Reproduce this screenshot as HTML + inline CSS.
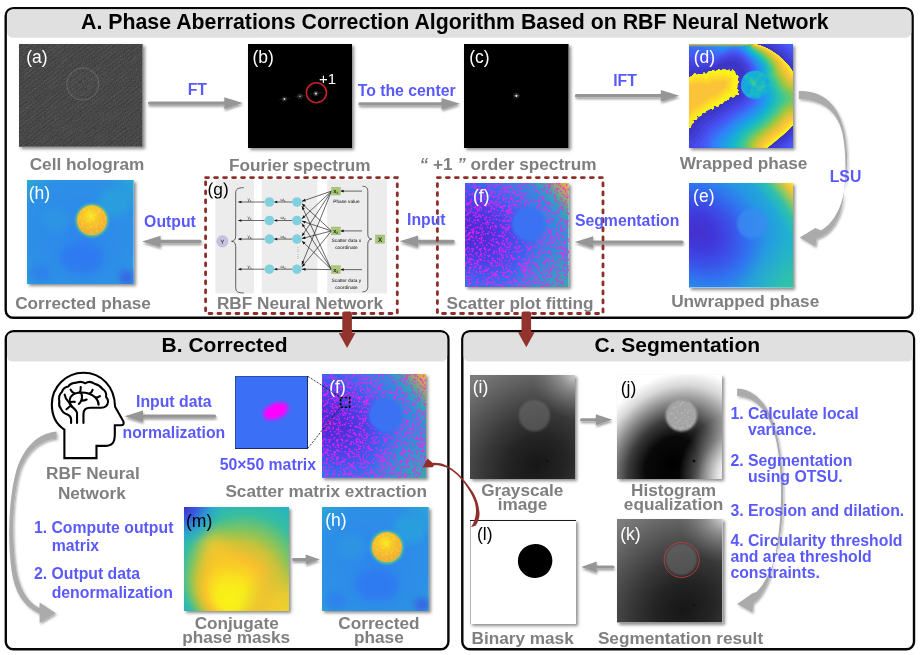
<!DOCTYPE html>
<html><head><meta charset="utf-8"><title>Phase Aberrations Correction</title>
<style>
html,body{margin:0;padding:0;background:#fff}
body{width:920px;height:655px;position:relative;overflow:hidden;font-family:"Liberation Sans",sans-serif}
.t{position:absolute;white-space:nowrap;font-weight:bold;line-height:1}
.g{color:#7f7f7f;font-size:17.2px}
.b{color:#5a5afc;font-size:15.8px}
.c{text-align:center;transform:translateX(-50%)}
.im{position:absolute;box-shadow:2px 2px 3px rgba(0,0,0,.45);overflow:hidden}
.im svg{display:block;width:100%;height:100%}
.lb{position:absolute;font-size:17px;color:#fff;line-height:1;font-weight:normal}
#ov{position:absolute;left:0;top:0;width:920px;height:655px;pointer-events:none}
</style></head>
<body>
<!-- PANELS -->
<svg id="bg" viewBox="0 0 920 655" style="position:absolute;left:0;top:0;width:920px;height:655px">
<g fill="#fff" stroke="#070707" stroke-width="2.4">
<rect x="5.7" y="8.1" width="906.9" height="309.7" rx="7.6"/>
<rect x="5.8" y="331.3" width="442.6" height="318" rx="7.6"/>
<rect x="462.3" y="331.2" width="451.7" height="318.1" rx="7.6"/>
</g>
<g fill="#e0e0e0">
<rect x="7.1" y="9.4" width="904.2" height="28.3" rx="5.5"/>
<rect x="7.1" y="332.5" width="440.1" height="29.1" rx="5.5"/>
<rect x="463.6" y="332.5" width="449.2" height="29" rx="5.5"/>
</g>
</svg>
<div class="t" style="left:81.1px;top:12px;font-size:21.3px;color:#000">A. Phase Aberrations Correction Algorithm Based on RBF Neural Network</div>
<div class="t" style="left:161.6px;top:334px;font-size:21px;color:#000">B. Corrected</div>
<div class="t" style="left:594.4px;top:334px;font-size:21px;color:#000">C. Segmentation</div>

<!-- IMAGES-START -->
<svg width="0" height="0" style="position:absolute"><defs>
<filter id="nz" x="0" y="0" width="100%" height="100%"><feTurbulence type="fractalNoise" baseFrequency="0.9" numOctaves="2" seed="3"/><feColorMatrix values="0 0 0 0 1  0 0 0 0 1  0 0 0 0 1  0.9 0 0 0 -0.28"/></filter>
<filter id="nz2" x="0" y="0" width="100%" height="100%"><feTurbulence type="fractalNoise" baseFrequency="0.05 0.6" numOctaves="2" seed="8"/><feColorMatrix values="0 0 0 0 1  0 0 0 0 1  0 0 0 0 1  0.8 0 0 0 -0.3"/></filter>
<filter id="mg" x="0" y="0" width="100%" height="100%"><feTurbulence type="fractalNoise" baseFrequency="0.62" numOctaves="1" seed="11"/><feColorMatrix values="0 0 0 0 0.93  0 0 0 0 0.1  0 0 0 0 0.95  16 0 0 0 -10.1"/><feGaussianBlur stdDeviation="0.3"/></filter>
<filter id="mg2" x="0" y="0" width="100%" height="100%"><feTurbulence type="fractalNoise" baseFrequency="0.62" numOctaves="1" seed="23"/><feColorMatrix values="0 0 0 0 0.93  0 0 0 0 0.1  0 0 0 0 0.95  16 0 0 0 -10.1"/><feGaussianBlur stdDeviation="0.3"/></filter>
<clipPath id="hcl"><circle cx="65" cy="40.3" r="14.5"/></clipPath>
<clipPath id="jcl"><circle cx="64.4" cy="40.6" r="14.8"/></clipPath>
<filter id="b8" x="-100%" y="-100%" width="300%" height="300%"><feGaussianBlur stdDeviation="8"/></filter>
<filter id="b03" x="0" y="0" width="100%" height="100%"><feGaussianBlur stdDeviation="0.35"/></filter>
<pattern id="fr" width="3.4" height="3.4" patternUnits="userSpaceOnUse" patternTransform="rotate(-38)"><rect width="3.4" height="1.5" fill="#fff" opacity=".045"/></pattern>
<filter id="b1"><feGaussianBlur stdDeviation="1"/></filter>
<filter id="b2"><feGaussianBlur stdDeviation="2"/></filter>
<filter id="b3"><feGaussianBlur stdDeviation="3.5"/></filter>
<filter id="b05"><feGaussianBlur stdDeviation="0.5"/></filter>
<filter id="b05e" x="0" y="0" width="100%" height="100%"><feGaussianBlur stdDeviation="0.55" edgeMode="duplicate"/></filter>
<filter id="sp" x="0" y="0" width="100%" height="100%"><feTurbulence type="fractalNoise" baseFrequency="0.35" numOctaves="2" seed="5"/><feColorMatrix values="0 0 0 0 1  0 0 0 0 1  0 0 0 0 0.3  3 0 0 0 -1.5"/></filter>
<filter id="spw" x="0" y="0" width="100%" height="100%"><feTurbulence type="fractalNoise" baseFrequency="0.4" numOctaves="2" seed="9"/><feColorMatrix values="0 0 0 0 1  0 0 0 0 1  0 0 0 0 1  3 0 0 0 -1.6"/></filter>
<radialGradient id="gE" gradientUnits="userSpaceOnUse" cx="0" cy="0" r="108" gradientTransform="translate(9 49) rotate(35) scale(1.12 .92)"><stop offset="0" stop-color="#4530cc"/><stop offset=".15" stop-color="#4038da"/><stop offset=".3" stop-color="#3b50e8"/><stop offset=".45" stop-color="#3074f0"/><stop offset=".6" stop-color="#2696e4"/><stop offset=".8" stop-color="#20b0d2"/><stop offset="1" stop-color="#26bcbc"/></radialGradient>
<radialGradient id="gEc" gradientUnits="userSpaceOnUse" cx="0" cy="0" r="128.5" gradientTransform="translate(8 50) rotate(45) scale(1.414 .816)"><stop offset=".7" stop-color="#2cc0aa" stop-opacity="0"/><stop offset=".8" stop-color="#34c4a0" stop-opacity=".7"/><stop offset=".87" stop-color="#84c866"/><stop offset=".94" stop-color="#ecc436"/><stop offset="1" stop-color="#fbe420"/></radialGradient>
<radialGradient id="gEb" gradientUnits="userSpaceOnUse" cx="118" cy="118" r="75"><stop offset="0" stop-color="#3cc894"/><stop offset=".4" stop-color="#30c4a4" stop-opacity=".8"/><stop offset="1" stop-color="#22b4cc" stop-opacity="0"/></radialGradient>
<radialGradient id="gH" cx=".5" cy=".5" r=".75"><stop offset="0" stop-color="#2e86ee"/><stop offset=".7" stop-color="#2d90e6"/><stop offset=".92" stop-color="#2aa6d6"/><stop offset="1" stop-color="#35b8b0"/></radialGradient>
<radialGradient id="gHc" cx=".45" cy=".35" r=".65"><stop offset="0" stop-color="#f9ec20"/><stop offset=".35" stop-color="#f8c828"/><stop offset=".8" stop-color="#f4b030"/><stop offset="1" stop-color="#d8b840"/></radialGradient>
<radialGradient id="gI" gradientUnits="userSpaceOnUse" cx="0" cy="0" r="125" gradientTransform="translate(66 90) rotate(-40) scale(1 .85)"><stop offset="0" stop-color="#161616"/><stop offset=".25" stop-color="#242424"/><stop offset=".45" stop-color="#383838"/><stop offset=".65" stop-color="#515151"/><stop offset=".85" stop-color="#6a6a6a"/><stop offset="1" stop-color="#7c7c7c"/></radialGradient>
<radialGradient id="gIc" gradientUnits="userSpaceOnUse" cx="108" cy="-4" r="48"><stop offset="0" stop-color="#fff" stop-opacity=".85"/><stop offset=".4" stop-color="#ccc" stop-opacity=".45"/><stop offset="1" stop-color="#888" stop-opacity="0"/></radialGradient>
<radialGradient id="gJ" gradientUnits="userSpaceOnUse" cx="0" cy="0" r="100" gradientTransform="translate(54 90) rotate(-55) scale(1 .8)"><stop offset="0" stop-color="#000"/><stop offset=".3" stop-color="#090909"/><stop offset=".5" stop-color="#3c3c3c"/><stop offset=".68" stop-color="#8a8a8a"/><stop offset=".85" stop-color="#d8d8d8"/><stop offset="1" stop-color="#fff"/></radialGradient>
<radialGradient id="gJb" gradientUnits="userSpaceOnUse" cx="124" cy="100" r="62"><stop offset="0" stop-color="#fff"/><stop offset=".35" stop-color="#fff" stop-opacity=".85"/><stop offset=".7" stop-color="#fff" stop-opacity=".3"/><stop offset="1" stop-color="#fff" stop-opacity="0"/></radialGradient>
<radialGradient id="gM" gradientUnits="userSpaceOnUse" cx="66" cy="60" r="84" fx="43" fy="95"><stop offset="0" stop-color="#f9f516"/><stop offset=".16" stop-color="#f9ea1e"/><stop offset=".36" stop-color="#f9c02e"/><stop offset=".5" stop-color="#c8c23a"/><stop offset=".6" stop-color="#84c45e"/><stop offset=".74" stop-color="#36bea0"/><stop offset=".9" stop-color="#25b2c4"/><stop offset="1" stop-color="#24a4d8"/></radialGradient>
<radialGradient id="gMb" gradientUnits="userSpaceOnUse" cx="112" cy="112" r="60"><stop offset="0" stop-color="#f9d826"/><stop offset=".45" stop-color="#f9cc2a" stop-opacity=".8"/><stop offset="1" stop-color="#c4c23c" stop-opacity="0"/></radialGradient>
<radialGradient id="gMc" gradientUnits="userSpaceOnUse" cx="-2" cy="-2" r="42"><stop offset="0" stop-color="#4428c8"/><stop offset=".35" stop-color="#3a50e0" stop-opacity=".9"/><stop offset=".7" stop-color="#2a9cd8" stop-opacity=".6"/><stop offset="1" stop-color="#2ab0c0" stop-opacity="0"/></radialGradient>
<linearGradient id="gMl" x1="0" x2="1" y1="0" y2="0"><stop offset="0" stop-color="#28a0d8"/><stop offset=".1" stop-color="#30b4b4" stop-opacity=".7"/><stop offset=".25" stop-color="#70c470" stop-opacity="0"/></linearGradient>
<linearGradient id="gMr" x1="1" x2="0.4" y1="1" y2="0.6"><stop offset="0" stop-color="#f9e022" stop-opacity=".9"/><stop offset="1" stop-color="#f9e022" stop-opacity="0"/></linearGradient>
<path id="fd" d="M23.1 90.6h.01M21.5 95.5h.01M50.8 63.6h.01M79.7 53.9h.01M30.9 19.5h.01M8.4 76.8h.01M45.9 16.5h.01M91.5 28.5h.01M43.1 30.8h.01M65.4 60.3h.01M29.6 26.4h.01M34.1 15.0h.01M17.2 100.2h.01M99.9 19.6h.01M2.5 21.3h.01M72.8 81.1h.01M2.4 60.1h.01M0.2 53.6h.01M66.5 102.5h.01M26.9 83.5h.01M90.5 96.0h.01M0.2 48.8h.01M102.1 41.5h.01M84.6 56.8h.01M80.2 50.4h.01M3.0 9.0h.01M11.6 26.1h.01M100.4 65.7h.01M84.9 58.9h.01M66.1 84.4h.01M96.4 94.9h.01M85.8 9.8h.01M37.5 3.7h.01M56.8 82.8h.01M5.3 19.6h.01M38.0 25.4h.01M82.7 36.6h.01M60.7 97.7h.01M98.1 11.6h.01M87.7 36.0h.01M10.5 39.9h.01M53.1 100.0h.01M38.6 1.3h.01M89.4 11.6h.01M49.7 88.4h.01M83.2 2.1h.01M102.5 83.3h.01M5.6 19.8h.01M47.1 73.1h.01M34.5 37.4h.01M95.8 99.2h.01M42.4 93.5h.01M34.3 8.6h.01M54.8 68.7h.01M92.9 100.4h.01M80.1 78.9h.01M73.8 73.0h.01M79.8 101.3h.01M38.9 8.6h.01M24.9 23.0h.01M37.8 84.3h.01M6.3 46.8h.01M84.6 27.5h.01M6.6 25.2h.01M8.8 84.0h.01M17.7 20.3h.01M84.7 84.3h.01M61.3 95.1h.01M6.2 100.4h.01M85.9 68.6h.01M102.6 11.2h.01M3.2 56.6h.01M37.9 92.8h.01M100.0 82.1h.01M51.7 22.0h.01M62.8 77.9h.01M78.6 103.3h.01M22.7 44.3h.01M44.1 33.1h.01M38.0 49.7h.01M14.0 31.4h.01M14.2 33.0h.01M70.6 62.5h.01M103.7 58.3h.01M57.1 66.8h.01M75.6 64.0h.01M61.2 62.9h.01M36.9 80.8h.01M25.5 7.4h.01M36.2 1.3h.01M17.2 6.3h.01M28.9 36.2h.01M61.5 80.6h.01M65.0 16.6h.01M93.0 76.0h.01M51.8 66.9h.01M53.0 17.5h.01M66.7 102.8h.01M80.1 18.9h.01M12.5 96.8h.01M94.7 77.9h.01M79.1 14.9h.01M84.4 20.0h.01M16.1 42.3h.01M0.0 87.9h.01M16.8 76.9h.01M60.6 80.1h.01M62.4 100.0h.01M39.5 51.7h.01M35.2 77.2h.01M31.3 83.1h.01M8.9 24.5h.01M45.6 13.1h.01M21.1 87.5h.01M38.7 22.7h.01M88.0 59.8h.01M65.9 92.4h.01M1.0 57.1h.01M73.6 83.8h.01M19.8 66.0h.01M97.6 26.9h.01M30.4 44.3h.01M59.4 103.0h.01M61.2 92.3h.01M31.8 36.4h.01M80.8 18.5h.01M14.3 22.2h.01M21.5 34.4h.01M8.5 45.4h.01M84.4 46.4h.01M46.5 2.9h.01M29.0 7.8h.01M5.0 89.8h.01M74.3 86.4h.01M13.8 38.0h.01M95.0 45.1h.01M96.3 100.0h.01M0.7 45.0h.01M39.1 37.0h.01M24.0 2.7h.01M76.0 103.8h.01M4.0 89.3h.01M56.6 2.0h.01M7.2 54.6h.01M10.9 30.8h.01M28.6 100.9h.01M48.8 29.7h.01M97.6 100.5h.01M74.8 14.2h.01M92.5 45.9h.01M81.8 75.0h.01M67.9 79.8h.01M84.4 48.0h.01M50.4 10.1h.01M38.6 92.2h.01M22.9 77.9h.01M83.9 20.4h.01M79.5 68.4h.01M101.4 40.4h.01M78.7 87.8h.01M39.4 23.3h.01M38.3 67.9h.01M26.8 89.3h.01M30.7 79.5h.01M33.4 52.4h.01M90.9 50.5h.01M48.7 6.4h.01M31.1 18.0h.01M35.4 30.7h.01M37.7 84.1h.01M93.1 95.2h.01M43.8 93.4h.01M61.1 103.6h.01M12.9 78.7h.01M78.9 86.7h.01M86.4 35.8h.01M39.6 61.9h.01M4.5 84.7h.01M66.4 99.4h.01M83.6 68.2h.01M21.6 101.1h.01M40.3 94.1h.01M52.1 69.9h.01M92.3 6.1h.01M30.7 18.5h.01M4.8 35.5h.01M95.2 26.3h.01M11.8 98.0h.01M71.5 85.0h.01M23.6 21.0h.01M44.1 88.1h.01M96.4 19.8h.01M91.3 30.7h.01M28.1 2.3h.01M90.6 17.3h.01M29.0 25.6h.01M95.9 8.5h.01M35.0 70.8h.01M17.2 60.1h.01M44.2 1.4h.01M22.0 101.4h.01M87.3 46.7h.01M33.4 1.5h.01M75.7 27.7h.01M53.2 65.1h.01M78.3 16.4h.01M9.5 80.5h.01M5.4 42.3h.01M3.7 21.6h.01M19.7 87.3h.01M77.3 25.4h.01M9.5 37.2h.01M78.1 13.4h.01M24.9 37.1h.01M0.4 80.4h.01M41.1 66.4h.01M54.7 81.1h.01M12.9 44.1h.01M0.5 8.1h.01M86.3 53.7h.01M82.1 76.9h.01M54.9 75.6h.01M98.2 98.6h.01M26.5 94.5h.01M49.0 21.7h.01M42.7 60.7h.01M92.5 94.0h.01M58.2 83.9h.01M55.0 9.9h.01M45.3 72.7h.01M78.5 70.5h.01M0.2 71.0h.01M101.9 22.2h.01M74.2 20.6h.01M79.7 97.3h.01M21.7 86.3h.01M31.1 91.6h.01M3.3 78.5h.01M22.4 38.2h.01M16.4 84.0h.01M20.9 36.9h.01M38.0 27.8h.01M23.3 77.8h.01M60.0 80.5h.01M16.3 56.7h.01M8.3 10.2h.01M44.9 61.6h.01M74.5 59.1h.01M8.0 39.2h.01M76.7 98.9h.01M94.2 51.1h.01M97.3 26.1h.01M64.2 79.3h.01M0.2 8.5h.01M33.4 22.5h.01M18.2 57.4h.01M38.1 13.8h.01M22.6 50.6h.01M85.9 49.2h.01M91.9 97.4h.01M80.2 81.0h.01M1.5 72.1h.01M3.6 78.5h.01M44.2 8.7h.01M96.8 19.3h.01M99.9 81.5h.01M96.0 65.1h.01M36.6 72.7h.01M47.9 76.4h.01M99.2 5.9h.01M17.2 44.8h.01M2.9 37.4h.01M44.0 18.2h.01M4.4 66.0h.01M24.6 72.8h.01M43.3 93.4h.01M31.0 56.2h.01M29.6 98.7h.01M28.9 70.3h.01M36.9 71.1h.01M64.5 80.4h.01M46.9 16.3h.01M12.2 16.1h.01M96.7 69.7h.01M94.1 63.9h.01M22.1 1.3h.01M55.5 101.2h.01M82.5 7.2h.01M37.8 13.9h.01M28.1 70.5h.01M33.9 53.0h.01M30.1 42.6h.01M39.3 60.7h.01M8.2 103.3h.01M14.1 5.6h.01M94.6 38.0h.01M0.5 26.1h.01M84.1 77.3h.01M67.1 85.9h.01M49.2 95.6h.01M28.0 51.7h.01M86.3 56.6h.01M24.9 34.7h.01M89.5 55.0h.01M36.0 64.9h.01M15.4 77.1h.01M37.8 53.7h.01M36.1 89.2h.01M18.4 90.4h.01M68.8 18.9h.01M16.3 27.0h.01M46.1 98.2h.01M81.6 30.0h.01M49.5 4.4h.01M80.7 74.3h.01M66.8 62.7h.01M7.7 54.5h.01M62.5 64.4h.01M93.4 34.3h.01M25.4 45.6h.01M64.2 88.6h.01M77.3 53.8h.01M40.5 77.6h.01M38.5 44.1h.01M1.9 52.8h.01M21.3 100.5h.01M9.6 4.3h.01M53.8 102.3h.01M28.5 13.8h.01M9.4 0.4h.01M85.3 23.1h.01M57.0 5.7h.01M33.6 94.4h.01M96.8 36.3h.01M7.5 47.3h.01M61.3 83.1h.01M38.3 54.1h.01M92.4 65.8h.01M28.5 96.9h.01M59.3 87.1h.01M83.9 69.9h.01M31.1 67.9h.01M12.0 69.7h.01M46.0 29.6h.01M51.2 2.8h.01M11.3 88.8h.01M18.3 32.3h.01M42.0 3.9h.01M45.2 59.4h.01M18.0 40.3h.01M5.3 29.5h.01M0.9 17.0h.01M6.8 96.6h.01M54.9 23.8h.01M41.2 94.1h.01M71.2 98.5h.01M28.4 39.9h.01M69.7 64.8h.01M28.3 9.9h.01M86.2 35.3h.01M0.1 72.0h.01M34.4 76.1h.01M12.5 26.8h.01M94.9 63.7h.01M42.2 89.1h.01M70.0 18.6h.01M28.2 91.6h.01M97.4 73.0h.01M55.3 94.7h.01M68.7 97.7h.01M73.4 22.6h.01M91.1 55.6h.01M35.5 24.2h.01M28.2 56.5h.01M4.8 37.9h.01M26.5 10.1h.01M91.3 54.8h.01M15.2 8.1h.01M59.1 81.1h.01M42.7 55.6h.01M83.9 67.8h.01M63.2 92.9h.01M17.1 18.0h.01M98.3 84.0h.01M101.6 54.7h.01M44.2 99.2h.01M45.2 49.8h.01M6.3 16.3h.01M66.0 71.7h.01M91.9 59.7h.01M15.3 71.6h.01M16.8 55.3h.01M21.0 28.7h.01M90.5 57.7h.01M77.8 15.8h.01M101.6 77.1h.01M85.6 70.8h.01M7.0 81.5h.01M75.5 72.7h.01M44.5 28.3h.01M11.0 80.3h.01M68.8 15.7h.01M63.8 98.8h.01M55.4 4.7h.01M100.6 67.5h.01M50.0 99.2h.01M46.4 22.3h.01M0.4 82.7h.01M15.4 82.9h.01M8.5 65.9h.01M2.4 75.0h.01M1.5 93.3h.01M61.2 82.5h.01M96.1 60.2h.01M57.3 96.5h.01M71.9 82.4h.01M52.7 103.4h.01M58.5 14.7h.01M4.2 87.5h.01M9.6 61.0h.01M51.9 84.7h.01M38.4 17.2h.01M18.6 12.2h.01M54.0 7.4h.01M43.7 24.0h.01M14.8 76.0h.01M83.0 77.1h.01M41.0 49.3h.01M74.8 66.9h.01M55.6 24.9h.01M26.1 57.2h.01M82.0 39.2h.01M58.5 102.9h.01M37.0 82.5h.01M53.0 7.0h.01M60.9 86.6h.01M7.1 67.3h.01M5.3 11.8h.01M19.7 35.8h.01M11.8 71.9h.01M70.7 100.1h.01M71.6 95.5h.01M83.5 60.6h.01M56.3 10.3h.01M17.9 62.8h.01M39.4 12.3h.01M84.2 38.6h.01M7.4 11.0h.01M6.1 22.6h.01M20.8 13.2h.01M49.2 64.6h.01M95.7 87.2h.01M59.3 75.6h.01M45.5 4.9h.01M69.2 90.4h.01M32.3 82.2h.01M74.5 67.0h.01M3.4 1.5h.01M52.9 55.6h.01M11.5 101.1h.01M24.7 79.2h.01M43.2 47.0h.01M85.3 101.2h.01M4.4 77.1h.01M40.0 51.9h.01M28.3 97.0h.01M13.9 15.9h.01M66.0 63.7h.01M74.7 14.8h.01M85.8 88.0h.01M42.4 37.7h.01M18.9 6.9h.01M7.0 65.5h.01M11.5 48.5h.01M52.6 12.4h.01M26.1 103.7h.01M101.3 93.0h.01M51.0 76.1h.01M11.0 44.4h.01M87.7 82.7h.01M29.3 4.6h.01M78.0 58.4h.01M90.1 7.8h.01M46.1 89.1h.01M85.6 86.7h.01M8.1 49.8h.01M1.2 80.0h.01M15.5 17.8h.01M1.1 57.2h.01M73.1 69.8h.01M73.3 57.3h.01M61.2 9.8h.01M101.7 2.1h.01M68.5 74.1h.01M41.9 74.0h.01M99.9 76.5h.01M82.7 22.5h.01M63.2 22.5h.01M66.6 88.3h.01M40.1 22.6h.01M93.9 27.9h.01M31.0 102.4h.01M98.5 87.7h.01M12.9 81.5h.01M43.3 44.0h.01M29.2 29.9h.01M21.0 34.1h.01M5.8 41.5h.01M52.8 103.4h.01M20.0 72.0h.01M27.5 32.4h.01M97.0 57.8h.01M87.6 100.5h.01M57.4 88.5h.01M96.3 43.9h.01M11.5 50.1h.01M30.9 89.8h.01M98.4 4.8h.01M48.3 22.4h.01M50.0 8.2h.01M33.7 11.4h.01M42.7 5.7h.01M70.4 95.4h.01M92.0 52.0h.01M11.0 84.7h.01M55.9 19.8h.01M66.7 82.8h.01M32.6 75.6h.01M34.7 80.2h.01M60.2 88.3h.01M27.0 79.5h.01M30.1 49.4h.01M91.3 71.1h.01M86.1 63.4h.01M63.8 97.2h.01M23.1 86.1h.01M64.6 90.0h.01M102.0 29.3h.01M93.8 20.6h.01M41.0 100.8h.01M17.8 31.9h.01M94.5 39.7h.01M100.6 45.4h.01M102.7 43.8h.01M11.6 64.7h.01M60.2 83.6h.01M60.1 85.7h.01M57.7 87.6h.01M53.9 82.2h.01M48.3 20.0h.01M70.4 93.6h.01M14.3 25.9h.01M41.6 15.2h.01M79.6 78.5h.01M48.8 96.6h.01M93.8 85.1h.01M68.8 99.7h.01M79.6 89.3h.01M50.6 97.7h.01M82.2 52.5h.01M90.6 14.7h.01M42.1 58.7h.01M85.4 86.0h.01M38.5 57.8h.01M45.8 27.2h.01M14.4 55.6h.01M72.0 74.1h.01M83.6 76.6h.01M46.8 15.5h.01M1.5 95.0h.01M63.7 87.2h.01M52.4 11.8h.01M29.0 69.1h.01M96.0 64.8h.01M94.8 92.3h.01M27.5 18.8h.01M69.5 79.5h.01M57.7 83.0h.01M100.9 17.7h.01M49.7 10.8h.01M34.4 8.9h.01M78.8 60.6h.01M2.2 21.6h.01M47.6 17.9h.01M85.9 1.3h.01M34.0 52.5h.01M46.8 25.0h.01M99.0 66.4h.01M13.0 99.7h.01M4.9 71.3h.01M102.6 71.1h.01M54.0 18.4h.01M59.2 76.6h.01M10.3 83.1h.01M63.8 7.0h.01M83.0 63.1h.01M85.1 20.8h.01M33.2 94.9h.01M97.5 101.0h.01M2.4 44.5h.01M99.9 68.5h.01M48.8 15.0h.01M52.6 80.7h.01M104.0 13.5h.01M90.3 18.4h.01M27.7 91.7h.01M30.8 21.8h.01M24.4 100.1h.01M98.1 76.4h.01M57.5 102.5h.01M90.1 63.2h.01M53.4 68.4h.01M26.9 8.7h.01M47.2 89.7h.01M87.4 30.2h.01M46.5 71.9h.01M57.9 76.8h.01M6.7 76.5h.01M27.0 13.3h.01M36.3 67.7h.01M57.1 1.8h.01M38.4 16.6h.01M25.4 66.4h.01M38.6 72.8h.01M44.5 44.0h.01M39.0 54.8h.01M101.4 39.1h.01M5.6 17.4h.01M40.3 89.9h.01M40.9 85.8h.01M27.9 75.4h.01M18.1 88.3h.01M103.3 68.2h.01M102.2 65.4h.01M98.1 71.8h.01M41.4 44.9h.01M16.2 55.6h.01M103.8 69.5h.01M3.9 26.6h.01M88.8 60.2h.01M11.2 53.4h.01M22.6 97.8h.01M38.5 68.9h.01M29.2 67.9h.01M83.3 83.2h.01M24.0 49.0h.01M95.8 14.8h.01M19.0 15.6h.01M2.3 31.4h.01M46.1 100.7h.01M27.7 92.8h.01M51.5 24.6h.01M38.1 74.7h.01M38.0 44.5h.01M43.7 66.5h.01M94.1 0.4h.01M57.8 90.6h.01M13.9 3.6h.01M99.7 82.7h.01M78.6 7.6h.01M59.2 59.8h.01M22.5 88.0h.01M63.6 76.4h.01M99.2 62.9h.01M79.8 24.1h.01M19.2 13.6h.01M55.6 14.8h.01M24.0 60.3h.01M78.7 99.1h.01M91.1 80.1h.01M68.1 70.4h.01M61.2 0.1h.01M81.7 38.1h.01M82.8 102.8h.01M34.8 96.9h.01M80.2 28.5h.01M32.4 88.6h.01M14.9 83.5h.01M23.8 28.3h.01M72.8 92.8h.01M78.4 93.7h.01M93.7 55.3h.01M45.7 14.9h.01M64.2 102.3h.01M15.8 70.9h.01M62.6 68.2h.01M86.5 77.2h.01M28.8 46.8h.01M76.5 6.1h.01M22.2 5.4h.01M15.6 68.6h.01M27.5 43.6h.01M99.8 37.1h.01M34.3 68.7h.01M24.1 99.8h.01M59.9 90.1h.01M69.0 3.0h.01M93.7 2.1h.01M73.5 56.3h.01M64.4 74.4h.01M38.9 9.1h.01M67.9 90.1h.01M54.6 63.7h.01M53.9 1.6h.01M17.7 7.8h.01M30.1 33.2h.01M24.8 93.8h.01M77.6 1.0h.01M20.4 98.7h.01M54.4 100.9h.01M97.1 70.5h.01M56.4 81.2h.01M27.3 74.7h.01M45.5 9.9h.01M29.4 77.8h.01M37.2 75.4h.01M58.2 102.8h.01M41.7 71.4h.01M41.3 9.2h.01M88.2 1.0h.01M78.4 79.8h.01M34.5 23.9h.01M87.2 76.6h.01M91.0 46.0h.01M78.7 80.7h.01M87.6 83.1h.01M24.1 95.1h.01M87.1 86.5h.01M67.2 78.8h.01M78.1 13.2h.01M38.6 85.0h.01M86.2 54.2h.01M29.9 92.5h.01M12.3 6.2h.01M79.1 70.4h.01M67.9 90.7h.01M45.5 63.0h.01M87.3 74.1h.01M102.6 82.7h.01M25.9 20.0h.01M99.7 88.3h.01M97.7 24.7h.01M73.2 9.8h.01M98.6 54.5h.01M41.7 81.2h.01M96.1 70.8h.01M14.0 3.4h.01M100.2 72.4h.01M42.3 30.6h.01M20.2 22.7h.01M44.0 96.3h.01M39.4 89.8h.01M42.8 30.6h.01M80.1 24.1h.01M60.0 86.4h.01M86.6 7.5h.01M0.1 3.9h.01M85.4 60.0h.01M30.0 63.0h.01M36.5 102.6h.01M41.3 56.9h.01M81.2 25.1h.01M50.1 68.2h.01M31.4 36.3h.01M36.9 22.9h.01M36.6 43.1h.01M44.6 29.9h.01M40.7 63.6h.01M92.7 30.1h.01M20.0 16.5h.01M3.3 93.5h.01M71.7 8.2h.01M49.0 93.3h.01M85.9 39.5h.01M40.7 15.6h.01M59.0 11.9h.01M91.6 90.0h.01M85.6 2.9h.01M31.1 23.6h.01M42.7 98.8h.01M80.9 55.0h.01M103.3 6.4h.01M85.3 50.6h.01M45.9 15.5h.01M82.6 100.3h.01M81.7 101.5h.01M19.2 65.3h.01M45.8 3.8h.01M81.0 18.2h.01M96.2 23.4h.01M27.1 100.9h.01M31.6 88.2h.01M77.0 90.1h.01M7.5 49.2h.01M40.1 68.4h.01M94.5 63.0h.01M86.8 91.9h.01M19.3 77.8h.01M98.4 53.4h.01M34.9 11.8h.01M66.6 18.4h.01M82.0 45.5h.01M34.8 67.2h.01M91.0 85.2h.01M98.7 70.5h.01M91.8 41.7h.01M75.8 90.4h.01M4.8 77.1h.01M83.0 36.3h.01M33.4 102.2h.01M19.5 74.8h.01M9.8 12.6h.01M4.7 54.6h.01M97.1 66.2h.01M83.6 94.1h.01M49.5 75.6h.01M60.5 91.7h.01M63.1 84.2h.01M73.3 23.6h.01M45.8 88.9h.01M98.0 54.5h.01M85.8 35.0h.01M23.3 41.2h.01M14.9 76.1h.01M68.1 71.3h.01M12.5 103.7h.01M83.0 102.4h.01M13.9 27.4h.01M88.6 59.0h.01M16.1 89.0h.01M70.3 81.6h.01M22.8 22.1h.01M100.5 7.2h.01M88.6 21.8h.01M28.5 14.7h.01M14.9 24.1h.01M1.3 21.6h.01M11.0 30.5h.01M46.3 88.6h.01M84.7 88.4h.01M39.6 45.5h.01M12.1 89.2h.01M96.6 24.1h.01M19.8 6.0h.01M22.5 99.9h.01M92.7 18.4h.01M40.8 18.7h.01M20.6 50.9h.01M5.1 84.5h.01M26.0 90.0h.01M23.8 73.4h.01M103.1 56.3h.01M48.9 53.8h.01M15.1 90.3h.01M9.9 4.4h.01M43.5 45.6h.01M102.3 26.2h.01M12.4 82.1h.01M28.2 58.2h.01M44.0 9.4h.01M12.9 23.4h.01M27.8 77.4h.01M21.5 22.7h.01M19.8 64.8h.01M33.9 32.8h.01M19.0 7.0h.01M5.1 100.2h.01M6.4 25.8h.01M85.1 11.1h.01M47.3 30.5h.01M40.5 47.7h.01M42.7 8.1h.01M45.0 83.1h.01M51.7 89.4h.01M5.8 18.5h.01M4.3 11.4h.01M34.0 66.3h.01M3.9 102.9h.01M44.9 26.1h.01M37.0 6.1h.01M20.3 57.8h.01M6.8 53.0h.01M47.3 74.4h.01M91.2 95.9h.01M7.5 68.2h.01M42.4 4.9h.01M10.1 60.6h.01M93.1 91.7h.01M95.6 69.5h.01M83.7 49.4h.01M84.0 102.8h.01M51.8 12.6h.01M67.6 91.1h.01M66.3 75.0h.01M67.8 2.1h.01M9.9 92.8h.01M103.8 86.0h.01M21.9 101.7h.01M82.0 33.0h.01M91.4 51.0h.01M81.5 47.7h.01M64.3 66.1h.01M59.5 1.0h.01M47.6 9.3h.01M99.8 60.3h.01M37.4 74.6h.01M97.0 64.7h.01M26.8 49.6h.01M24.4 3.1h.01M16.4 25.1h.01M57.1 15.8h.01M24.4 12.1h.01M4.3 96.5h.01M6.0 75.7h.01M84.8 85.0h.01M11.4 18.3h.01M1.9 89.5h.01M92.0 97.9h.01M97.3 73.4h.01M23.0 98.2h.01M29.2 90.3h.01M73.7 68.9h.01M85.5 47.4h.01M81.8 87.3h.01M42.5 64.5h.01M26.2 81.7h.01M36.9 53.1h.01M38.3 102.7h.01M1.2 27.6h.01M78.7 70.6h.01M36.7 8.5h.01M61.0 18.1h.01M25.7 12.8h.01M17.2 49.4h.01M11.9 77.9h.01M42.9 87.9h.01M81.5 93.1h.01M74.4 70.3h.01M60.9 0.3h.01M16.9 46.7h.01M5.6 79.4h.01M10.5 33.0h.01M13.4 77.9h.01M14.8 88.2h.01M16.1 51.8h.01M26.1 80.3h.01M44.1 37.6h.01M83.0 98.3h.01M21.1 23.7h.01M8.5 57.5h.01M98.7 48.7h.01M32.3 27.2h.01M8.8 86.9h.01M59.3 86.5h.01M32.4 92.5h.01M9.4 24.8h.01M3.7 100.3h.01M99.1 82.0h.01M36.6 27.5h.01M9.6 18.6h.01M51.0 65.1h.01M37.7 66.0h.01M83.2 36.8h.01M4.3 50.1h.01M5.7 49.2h.01M79.0 25.6h.01M46.4 35.9h.01M11.0 13.9h.01M95.9 45.6h.01M3.8 56.0h.01M11.2 103.6h.01M73.5 18.7h.01M41.0 28.1h.01M18.5 51.4h.01M48.5 98.1h.01M72.4 79.1h.01M20.6 40.0h.01M88.0 36.9h.01M80.3 4.2h.01M15.6 68.3h.01M50.1 22.1h.01M21.8 62.1h.01M74.1 96.6h.01M41.0 44.5h.01M5.1 75.4h.01M101.1 71.9h.01M9.5 13.0h.01M94.1 87.9h.01M3.4 29.8h.01M3.2 42.4h.01M0.1 67.2h.01M39.6 32.2h.01M56.5 68.0h.01M15.8 71.8h.01M91.4 49.4h.01M31.6 21.7h.01M15.9 24.3h.01M16.6 73.3h.01M98.6 73.3h.01M82.3 93.0h.01M3.5 78.5h.01M11.2 100.3h.01M38.7 37.8h.01M82.4 87.1h.01M46.6 80.7h.01M57.6 90.7h.01M26.9 80.7h.01M8.9 46.6h.01M41.7 46.7h.01M13.9 10.9h.01M65.4 89.6h.01M89.6 13.1h.01M9.5 17.3h.01M52.1 58.8h.01M16.0 65.7h.01M34.7 81.8h.01M45.8 34.8h.01M36.7 27.4h.01M61.9 19.6h.01M5.2 86.1h.01M55.5 85.5h.01M62.0 79.7h.01M68.7 64.0h.01M26.0 28.2h.01M27.1 77.3h.01M101.0 8.9h.01M72.9 25.7h.01M0.5 68.1h.01M9.0 32.4h.01M23.7 29.1h.01M23.8 94.4h.01M24.2 66.4h.01M10.9 70.5h.01M61.4 0.3h.01M17.6 8.5h.01M59.4 84.3h.01M34.3 65.6h.01M30.9 101.4h.01M80.8 78.1h.01M31.2 43.1h.01M72.3 94.0h.01M1.1 65.9h.01M82.2 9.9h.01M93.9 56.6h.01M43.7 79.3h.01M41.2 82.6h.01M88.3 100.8h.01M36.6 9.9h.01M79.9 2.0h.01M79.3 87.0h.01M95.7 3.1h.01M92.4 102.8h.01M12.9 50.3h.01M38.3 89.8h.01M8.6 48.8h.01M3.0 96.8h.01M46.1 74.6h.01M3.0 20.8h.01M94.2 98.2h.01M17.1 100.9h.01M95.6 48.5h.01M33.8 60.2h.01M64.7 1.0h.01M84.8 84.6h.01M73.5 69.4h.01M94.8 53.3h.01M65.3 94.3h.01M96.9 51.4h.01M14.5 66.8h.01M50.7 18.0h.01M23.6 6.5h.01M83.4 50.0h.01M5.9 28.0h.01M98.3 5.3h.01M72.7 7.2h.01M87.2 64.4h.01M84.1 19.5h.01M34.2 61.3h.01M12.7 63.6h.01M30.5 10.2h.01M13.3 37.4h.01M98.6 65.1h.01M16.2 42.0h.01M103.1 87.6h.01M20.9 84.0h.01M59.0 14.7h.01M19.0 94.0h.01M74.6 73.0h.01M60.6 23.5h.01M100.8 65.2h.01M77.1 102.7h.01M13.8 73.5h.01M16.5 71.1h.01M42.1 27.5h.01M78.4 55.1h.01M14.8 9.1h.01M28.8 21.6h.01M49.5 22.5h.01M96.6 46.4h.01M57.8 0.2h.01M61.6 3.7h.01M44.2 19.8h.01M40.8 68.2h.01M96.4 48.6h.01M0.5 81.8h.01M30.6 93.8h.01M34.4 101.5h.01M24.2 39.4h.01M37.5 62.0h.01M99.7 12.7h.01M21.3 41.3h.01M27.3 40.0h.01M95.5 36.6h.01M40.6 8.8h.01M3.9 51.7h.01M40.4 69.1h.01M81.8 25.7h.01M37.7 104.0h.01M2.6 65.1h.01M41.9 56.8h.01M12.8 96.3h.01M87.1 58.8h.01M96.8 16.2h.01M7.1 91.0h.01M88.5 84.6h.01M59.5 100.2h.01M46.9 61.0h.01M91.7 5.6h.01M99.1 21.6h.01M72.1 18.5h.01M20.8 69.1h.01M32.0 69.8h.01M82.2 101.5h.01M25.4 17.5h.01M3.5 68.6h.01M94.6 70.1h.01M22.8 72.4h.01M2.8 31.3h.01M83.3 79.6h.01M83.9 5.2h.01M35.2 52.9h.01M57.6 86.5h.01M75.1 17.7h.01M8.0 3.0h.01M91.3 41.0h.01M48.0 75.3h.01M72.3 58.9h.01M52.5 18.3h.01M4.1 20.2h.01M103.9 31.2h.01M71.7 24.4h.01M62.4 16.9h.01M74.2 9.7h.01M38.0 49.0h.01M41.5 84.8h.01M16.1 59.1h.01M35.6 41.8h.01M87.1 81.4h.01M42.4 38.4h.01M37.0 60.0h.01M8.1 29.6h.01M95.2 42.4h.01M84.4 32.5h.01M33.7 60.5h.01M2.9 52.3h.01M8.4 50.6h.01M85.6 47.9h.01M16.5 54.0h.01M98.8 59.2h.01M100.2 77.8h.01M44.0 28.5h.01M86.4 27.1h.01M26.1 99.7h.01M25.5 9.9h.01M9.7 13.2h.01M88.7 77.9h.01M85.9 71.8h.01M103.1 37.7h.01M10.5 24.1h.01M42.1 46.8h.01M91.2 87.6h.01M50.3 87.5h.01M41.8 14.7h.01M58.9 95.9h.01M35.3 64.4h.01M1.0 47.4h.01M92.6 9.3h.01M16.1 13.7h.01M62.3 79.9h.01M1.4 32.3h.01M78.7 66.0h.01M28.0 62.1h.01M63.7 77.5h.01M99.7 39.2h.01M61.6 71.5h.01M99.1 46.6h.01M74.3 101.0h.01M74.6 16.7h.01M101.8 50.6h.01M43.7 41.8h.01M103.0 83.5h.01M51.3 59.8h.01M98.9 41.7h.01M93.7 25.1h.01M29.1 51.9h.01M22.1 96.0h.01M26.9 23.9h.01M20.3 88.3h.01M15.5 19.4h.01M63.2 85.4h.01M23.1 50.8h.01M22.3 39.4h.01M48.9 9.6h.01M84.0 1.5h.01M8.3 72.9h.01M40.7 3.6h.01M7.8 49.1h.01M10.9 5.5h.01M32.8 59.8h.01M30.3 1.7h.01M96.0 76.2h.01M10.7 19.5h.01M91.0 63.2h.01M76.5 22.0h.01M45.2 38.3h.01M26.0 1.7h.01M5.0 50.2h.01M44.6 22.6h.01M49.3 54.7h.01M2.3 75.4h.01M75.7 13.9h.01M100.9 70.2h.01M84.3 90.4h.01M39.6 5.8h.01M101.6 14.1h.01M25.6 22.7h.01M4.4 101.2h.01M85.0 92.6h.01M29.9 91.2h.01M28.6 83.1h.01M32.7 16.3h.01M0.8 66.3h.01M18.7 21.7h.01M79.3 95.1h.01M97.1 35.5h.01M91.5 69.6h.01M12.2 24.1h.01M56.2 81.9h.01M75.7 21.2h.01M63.1 60.7h.01M28.0 99.5h.01M5.9 81.3h.01M86.6 93.6h.01M23.2 67.8h.01M34.4 21.3h.01M38.1 84.8h.01M26.1 60.9h.01M73.5 88.3h.01M37.0 10.3h.01M68.3 6.6h.01M15.7 33.0h.01M7.0 93.9h.01M83.0 4.6h.01M11.0 34.4h.01M12.5 80.0h.01M26.5 26.3h.01M40.2 5.6h.01M17.2 100.9h.01M18.0 97.5h.01M15.1 45.0h.01M38.9 5.6h.01M80.3 68.3h.01M87.6 54.5h.01M59.8 76.8h.01M10.4 2.4h.01M44.5 61.4h.01M3.2 79.4h.01M15.0 86.1h.01M4.1 98.2h.01M15.9 34.3h.01M60.6 11.7h.01M98.0 86.5h.01M47.6 8.4h.01M12.8 57.7h.01M72.2 23.2h.01M24.7 20.6h.01M36.2 89.5h.01M3.0 64.6h.01M44.8 100.1h.01M28.8 20.0h.01M71.7 83.5h.01M75.4 60.1h.01M83.6 27.7h.01M44.6 4.4h.01M40.7 103.0h.01M91.1 52.8h.01M70.8 7.8h.01M10.2 37.2h.01M96.7 37.7h.01M54.3 80.1h.01M82.9 9.2h.01M32.3 1.6h.01M90.2 30.0h.01M56.3 12.9h.01M61.7 100.6h.01M94.8 103.0h.01M75.0 99.5h.01M30.4 78.4h.01M102.6 14.7h.01M36.2 68.1h.01M63.0 67.1h.01M102.5 38.1h.01M27.2 62.9h.01M23.7 85.4h.01M60.8 4.3h.01M48.3 75.8h.01M40.3 34.9h.01M16.1 76.4h.01M9.6 24.7h.01M37.4 38.3h.01M56.8 14.2h.01M41.8 73.2h.01M100.2 59.2h.01M44.3 22.9h.01M54.1 12.2h.01M27.3 25.0h.01M98.7 59.6h.01M42.3 28.9h.01M91.8 0.6h.01M56.5 83.3h.01M71.3 73.8h.01M36.8 23.9h.01M99.4 91.1h.01M12.8 28.7h.01M0.6 36.0h.01M40.0 38.3h.01M57.6 59.1h.01M70.9 3.9h.01M43.1 26.9h.01M72.4 100.0h.01M88.7 55.5h.01M38.8 15.9h.01M44.5 26.8h.01M14.5 85.4h.01M56.6 6.2h.01M15.0 45.6h.01M2.0 19.8h.01M73.4 18.4h.01M79.3 5.6h.01M31.4 44.0h.01M76.2 58.3h.01M14.9 60.1h.01M5.8 3.9h.01M81.7 19.6h.01M69.3 95.3h.01M99.0 63.1h.01M15.5 66.3h.01M83.2 60.8h.01M26.8 19.1h.01M82.6 9.6h.01M37.3 32.8h.01M99.1 62.2h.01M32.4 79.9h.01M82.7 59.6h.01M62.9 64.3h.01M34.4 82.3h.01M41.3 56.1h.01M63.7 19.9h.01M94.7 79.9h.01M100.8 65.2h.01M3.5 50.5h.01M6.2 71.6h.01M14.3 66.2h.01M37.3 45.2h.01M37.7 25.3h.01M101.2 77.9h.01M14.9 85.1h.01M76.8 67.3h.01M100.2 92.2h.01M20.6 66.6h.01M84.6 4.3h.01M80.9 25.8h.01M41.7 33.6h.01M41.9 28.7h.01M37.5 24.1h.01M11.6 4.9h.01M28.2 55.7h.01M53.8 62.9h.01M84.8 39.1h.01M78.4 92.7h.01M47.3 103.6h.01M41.3 3.4h.01M68.3 97.8h.01M50.0 98.7h.01M24.6 4.5h.01M81.9 77.9h.01M12.8 33.8h.01M77.6 100.3h.01M44.4 86.4h.01M38.3 99.5h.01M31.6 32.4h.01M5.8 53.2h.01M29.8 13.2h.01M61.6 70.9h.01M59.7 93.1h.01M101.6 85.8h.01M55.0 63.6h.01M36.0 67.7h.01M89.2 83.7h.01M45.5 91.9h.01M26.0 61.4h.01M32.6 14.0h.01M90.3 79.4h.01M60.2 22.1h.01M54.1 74.0h.01M64.7 67.3h.01M61.6 87.0h.01M35.6 19.5h.01M71.6 64.3h.01M3.5 30.2h.01M86.2 51.6h.01M79.3 87.6h.01M12.6 36.6h.01M53.5 3.9h.01M38.7 87.3h.01M65.3 11.1h.01M48.1 69.0h.01M55.7 17.8h.01M48.5 100.1h.01M69.9 91.7h.01M79.8 57.0h.01M63.3 65.6h.01M54.0 95.0h.01M103.1 30.5h.01M100.3 95.8h.01M84.3 89.6h.01M12.0 100.6h.01M93.7 30.0h.01M87.0 29.8h.01M91.5 84.4h.01M13.9 49.6h.01M18.2 48.4h.01M101.7 89.5h.01M57.9 98.1h.01M103.5 76.6h.01M9.1 13.1h.01M83.1 70.0h.01M44.4 64.4h.01M70.2 100.2h.01M5.9 84.5h.01M77.6 62.5h.01M37.8 59.9h.01M45.3 25.0h.01M94.3 65.5h.01M65.9 64.8h.01M5.3 28.3h.01M34.4 69.0h.01M60.5 95.1h.01M93.8 5.8h.01M100.0 57.7h.01M84.4 28.4h.01M10.9 55.1h.01M4.4 56.4h.01M79.1 50.4h.01M80.7 62.9h.01M32.4 58.7h.01M53.7 74.0h.01M47.0 51.5h.01M91.1 96.6h.01M8.8 0.7h.01M31.3 56.3h.01M36.8 78.2h.01M84.4 5.4h.01M101.3 74.1h.01M14.4 85.3h.01M46.1 4.0h.01M43.7 69.6h.01M82.0 45.1h.01M32.8 19.2h.01M25.1 28.0h.01M79.6 78.9h.01M4.6 77.5h.01M1.4 13.8h.01M2.6 37.3h.01M40.9 41.8h.01M82.0 8.1h.01M16.2 12.6h.01M59.0 10.3h.01M70.7 73.7h.01M18.9 70.4h.01M31.2 59.4h.01M23.7 29.0h.01M87.0 77.8h.01M59.3 19.9h.01M51.6 98.0h.01M30.9 3.4h.01M25.5 43.9h.01M10.3 30.0h.01M44.4 77.3h.01M37.5 50.4h.01" stroke="#f222f2" stroke-width="1.55" stroke-linecap="round" fill="none"/></defs></svg>
<div class="im" style="left:19px;top:44px;width:123.7px;height:102.8px;"><svg viewBox="0 0 123.7 102.8" preserveAspectRatio="none"><rect width="100%" height="100%" fill="#3a3a3a"/><circle cx="63.8" cy="40" r="16.2" fill="#3f3f3f" stroke="#5c5c5c" stroke-width="1" opacity=".9"/><circle cx="63.8" cy="40" r="13.2" fill="none" stroke="#2c2c2c" stroke-width="1" stroke-dasharray="1.4 2.4" opacity=".8"/><circle cx="61" cy="38" r="1" fill="#2a2a2a"/><circle cx="67" cy="45" r="1.1" fill="#2a2a2a"/><circle cx="66" cy="35" r=".8" fill="#2c2c2c"/><circle cx="58" cy="44" r=".8" fill="#2c2c2c"/><circle cx="75" cy="84" r="1" fill="#2a2a2a"/><rect width="100%" height="100%" fill="url(#fr)"/><rect width="100%" height="100%" opacity=".24" filter="url(#nz)"/><g transform="rotate(-38 62 51)"><rect x="-40" y="-40" width="210" height="190" opacity=".13" filter="url(#nz2)"/></g></svg><div class="lb" style="left:7.2px;top:5.2px;color:#fff;font-size:17.5px">(a)</div></div>
<div class="im" style="left:247.5px;top:44px;width:104.5px;height:104px;"><svg viewBox="0 0 104.5 104" preserveAspectRatio="none"><rect width="100%" height="100%" fill="#000"/><g filter="url(#b05)"><circle cx="36.4" cy="55" r="2.6" fill="#555" opacity=".45"/><circle cx="52" cy="52.2" r="2.8" fill="#555" opacity=".4"/><circle cx="67.9" cy="49.5" r="2.6" fill="#666" opacity=".45"/><circle cx="36.4" cy="55" r=".9" fill="#eee"/><circle cx="52" cy="52.2" r=".8" fill="#bbb"/><circle cx="67.9" cy="49.5" r="1" fill="#fff"/><path d="M31 55.5L42 54.2M47 52.8L57 51.5M62 50.2L75 48.6" stroke="#666" stroke-width=".5" opacity=".5"/></g><circle cx="68.4" cy="48.7" r="10" fill="none" stroke="#c4202c" stroke-width="1.6"/><text x="71" y="39.6" fill="#fff" font-family="Liberation Sans, sans-serif" font-size="15">+1</text></svg><div class="lb" style="left:5px;top:4.7px;color:#fff;font-size:17.5px">(b)</div></div>
<div class="im" style="left:464.2px;top:43.6px;width:104.6px;height:104.2px;"><svg viewBox="0 0 104.6 104.2" preserveAspectRatio="none"><rect width="100%" height="100%" fill="#000"/><g filter="url(#b05)"><circle cx="52.4" cy="51.8" r="3" fill="#555" opacity=".45"/><circle cx="52.4" cy="51.8" r="1.1" fill="#fff"/><path d="M49 51.8H56" stroke="#777" stroke-width=".5" opacity=".6"/></g></svg><div class="lb" style="left:5px;top:5.2px;color:#fff;font-size:17.5px">(c)</div></div>
<div class="im" style="left:688.7px;top:43.6px;width:104.5px;height:104.1px;"><svg viewBox="0 0 104.5 104.1" preserveAspectRatio="none"><g filter="url(#b05e)" fill-rule="evenodd"><rect width="100%" height="100%" fill="#3d34c8"/><path fill="#403cd3" d="M104.8 84.2L99.5 89.8L82.5 103.8L104.8 103.8ZM43.5 25.2L43 25.2L43.2 26.8L41.2 27.5L40.2 27.2L40.8 26.2L40.2 25.8L38.2 26.5L36 25.8L33.5 25.8L32 26.8L30 25.5L27.8 26.5L27.2 27.8L25.8 27.5L24.5 26L24 26L22.8 27L20.5 27L16.8 30.8L15.5 28.8L14.8 28.8L13.8 30.2L12.8 30.5L12 30L10.5 30L7.2 31L6.5 29.5L5.2 29.5L2.8 32.2L1 33.2L0 33.2L0 79.8L0.8 80.2L0 81.2L0 84L1.5 83.8L2.5 79.8L5 78.2L5 77.5L4.2 76.8L2.8 77.5L2 77L2.8 76.2L7.2 75.5L8 74.8L8.2 73.2L7.8 72.2L8.5 71.2L9 71.2L9.8 72.5L12.5 71L12.8 69.5L13.5 68.8L16.2 68.5L17.2 66.8L20.5 65L22.5 64.8L23.5 65.5L25 64L24.8 62L25.2 61.5L29 62.8L30 60.2L33.8 59.2L34.5 57.5L37 56.2L37.8 56.5L38.5 55.5L39.8 55.5L40.2 53.5L41.5 52.5L43 52.2L44 53.5L44.5 52.8L45.5 52.5L45.8 51.5L47 50.5L49.8 50.8L49.5 49.8L48.2 48.5L48.5 47.2L49.5 46.5L48 44.8L48.2 40.2L49.5 38.2L48.8 36L49.2 32.5L48.5 31.5L46.5 30.8L45.8 27.5L44 26.5ZM74.8 0L81.2 2.8L91.2 9.5L99.8 17.5L104.8 24L104.8 0ZM0 0L0 27.2L4.5 25.8L7 25.8L8.8 26.5L12.2 26.2L13.5 25.5L17 25.8L19.2 24.2L22.2 24L24.2 22.5L26.8 22.2L30 20L41.2 17L45.5 17L49.2 18.8L53 22.5L55 25.8L56.5 29.5L53.8 33L51.8 38.2L51.5 42L52.5 45.8L52.5 47L51.8 48.2L52.5 49.8L52 52.2L50.8 53.5L48.2 54L45.2 56.5L42.8 57L41.2 58.5L37.5 60L36 61.8L33.5 62.8L31 65.5L27.5 66.8L22.5 70.8L19.2 71.5L13.5 75.2L9.2 79.8L6.8 83.2L3.2 90L1.5 91.2L0 91.5L0 103.8L77.8 103.8L83.5 99.5L98 87.2L103.8 81.2L104.8 79.5L104.8 29.5L101.5 24.2L97.2 19L89.8 12L83 7.2L77.8 4.2L72.5 2L65.2 0Z"/><path fill="#4344df" d="M104.8 88.5L101.2 92L87.2 103.8L104.8 103.8ZM43.5 25.2L43 25.2L43.2 26.8L41.2 27.5L40.2 27.2L40.8 26.2L40.2 25.8L38.2 26.5L36 25.8L33.5 25.8L32 26.8L30 25.5L27.8 26.5L27.2 27.8L25.8 27.5L24.5 26L24 26L22.8 27L20.5 27L16.8 30.8L15.5 28.8L14.8 28.8L13.8 30.2L12.8 30.5L12 30L10.5 30L7.2 31L6.5 29.5L5.2 29.5L2.8 32.2L1 33.2L0 33.2L0 79.8L0.8 80.2L0 81.2L0 84L1.5 83.8L2.5 79.8L5 78.2L5 77.5L4.2 76.8L2.8 77.5L2 77L2.8 76.2L7.2 75.5L8 74.8L8.2 73.2L7.8 72.2L8.5 71.2L9 71.2L9.8 72.5L12.5 71L12.8 69.5L13.5 68.8L16.2 68.5L17.2 66.8L20.5 65L22.5 64.8L23.5 65.5L25 64L24.8 62L25.2 61.5L29 62.8L30 60.2L33.8 59.2L34.5 57.5L37 56.2L37.8 56.5L38.5 55.5L39.8 55.5L40.2 53.5L41.5 52.5L43 52.2L44 53.5L44.5 52.8L45.5 52.5L45.8 51.5L47 50.5L49.8 50.8L49.5 49.8L48.2 48.5L48.5 47.2L49.5 46.5L48 44.8L48.2 40.2L49.5 38.2L48.8 36L49.2 32.5L48.5 31.5L46.5 30.8L45.8 27.5L44 26.5ZM81.8 0L90.8 5.5L96 9.8L102 15.8L104.8 19.2L104.8 0ZM0 0L0 21.5L14 21.8L23.8 20.8L31.8 16.5L40.8 14L45.5 13.8L48 14.5L52 17L55.8 21L59.2 27.5L54.5 32L53 34.5L52 37.5L52 44.5L53.5 48.2L55 50.2L55 51.8L53.8 54.2L49.2 57.8L40.8 62.5L28.5 71.2L17.2 78.2L12.5 83.2L7.2 92L3.5 95.5L0 96.5L0 103.8L77.8 103.8L83.5 99.5L98 87.2L103.8 81.2L104.8 79.5L104.8 29.5L101.5 24.2L97.2 19L89.8 12L83 7.2L77.8 4.2L72.5 2L65.2 0Z"/><path fill="#464ceb" d="M104.8 92.5L91.5 103.8L104.8 103.8ZM43.5 25.2L43 25.2L43.2 26.8L41.2 27.5L40.2 27.2L40.8 26.2L40.2 25.8L38.2 26.5L36 25.8L33.5 25.8L32 26.8L30 25.5L27.8 26.5L27.2 27.8L25.8 27.5L24.5 26L24 26L22.8 27L20.5 27L16.8 30.8L15.5 28.8L14.8 28.8L13.8 30.2L12.8 30.5L12 30L10.5 30L7.2 31L6.5 29.5L5.2 29.5L2.8 32.2L1 33.2L0 33.2L0 79.8L0.8 80.2L0 81.2L0 84L1.5 83.8L2.5 79.8L5 78.2L5 77.5L4.2 76.8L2.8 77.5L2 77L2.8 76.2L7.2 75.5L8 74.8L8.2 73.2L7.8 72.2L8.5 71.2L9 71.2L9.8 72.5L12.5 71L12.8 69.5L13.5 68.8L16.2 68.5L17.2 66.8L20.5 65L22.5 64.8L23.5 65.5L25 64L24.8 62L25.2 61.5L29 62.8L30 60.2L33.8 59.2L34.5 57.5L37 56.2L37.8 56.5L38.5 55.5L39.8 55.5L40.2 53.5L41.5 52.5L43 52.2L44 53.5L44.5 52.8L45.5 52.5L45.8 51.5L47 50.5L49.8 50.8L49.5 49.8L48.2 48.5L48.5 47.2L49.5 46.5L48 44.8L48.2 40.2L49.5 38.2L48.8 36L49.2 32.5L48.5 31.5L46.5 30.8L45.8 27.5L44 26.5ZM87.2 0L92 3L98.2 8L104.8 14.8L104.8 0ZM0 0L0 17.5L8.2 18L25.8 17.8L30.8 14.8L42 11.5L45.8 11.5L48.5 12.2L53.2 15.2L57.5 19.8L60.2 24L61.2 26.5L60.8 27.2L57.2 29.2L54.2 32.5L53 34.8L51.8 39.2L51.8 42.8L52.8 46.5L54.8 50L57.8 53L56.2 56L52.8 59.2L43.2 64.8L19.8 81L14.8 86.5L10.5 94.2L4.2 101.8L3.5 103.8L77.8 103.8L83.5 99.5L98 87.2L103.8 81.2L104.8 79.5L104.8 29.5L101.5 24.2L97.2 19L89.8 12L83 7.2L77.8 4.2L72.5 2L65.2 0Z"/><path fill="#4655f4" d="M104.8 96.2L95.5 103.8L104.8 103.8ZM43.5 25.2L43 25.2L43.2 26.8L41.2 27.5L40.2 27.2L40.8 26.2L40.2 25.8L38.2 26.5L36 25.8L33.5 25.8L32 26.8L30 25.5L27.8 26.5L27.2 27.8L25.8 27.5L24.5 26L24 26L22.8 27L20.5 27L16.8 30.8L15.5 28.8L14.8 28.8L13.8 30.2L12.8 30.5L12 30L10.5 30L7.2 31L6.5 29.5L5.2 29.5L2.8 32.2L1 33.2L0 33.2L0 79.8L0.8 80.2L0 81.2L0 84L1.5 83.8L2.5 79.8L5 78.2L5 77.5L4.2 76.8L2.8 77.5L2 77L2.8 76.2L7.2 75.5L8 74.8L8.2 73.2L7.8 72.2L8.5 71.2L9 71.2L9.8 72.5L12.5 71L12.8 69.5L13.5 68.8L16.2 68.5L17.2 66.8L20.5 65L22.5 64.8L23.5 65.5L25 64L24.8 62L25.2 61.5L29 62.8L30 60.2L33.8 59.2L34.5 57.5L37 56.2L37.8 56.5L38.5 55.5L39.8 55.5L40.2 53.5L41.5 52.5L43 52.2L44 53.5L44.5 52.8L45.5 52.5L45.8 51.5L47 50.5L49.8 50.8L49.5 49.8L48.2 48.5L48.5 47.2L49.5 46.5L48 44.8L48.2 40.2L49.5 38.2L48.8 36L49.2 32.5L48.5 31.5L46.5 30.8L45.8 27.5L44 26.5ZM92.2 0L99.2 5.2L104.8 10.8L104.8 0ZM0 0L0 13.5L9.2 14.5L19 14.5L27.2 15.2L31 13L41.5 9.8L46.5 9.8L51 11.5L55.5 15L59 18.8L61.5 22.5L63 26L62.5 26.8L57.8 29L54.8 32L52.8 35.8L51.8 40.2L52.5 45.5L54 48.8L56.8 52L60.2 54.2L59 57L54.2 61.5L42.5 68.5L20.8 84.5L16.2 90.5L11 100.8L10.5 103.8L77.8 103.8L83.5 99.5L98 87.2L103.8 81.2L104.8 79.5L104.8 29.5L101.5 24.2L97.2 19L89.8 12L83 7.2L77.8 4.2L72.5 2L65.2 0Z"/><path fill="#4061f5" d="M104.8 99.8L100 103.8L104.8 103.8ZM43.5 25.2L43 25.2L43.2 26.8L41.2 27.5L40.2 27.2L40.8 26.2L40.2 25.8L38.2 26.5L36 25.8L33.5 25.8L32 26.8L30 25.5L27.8 26.5L27.2 27.8L25.8 27.5L24.5 26L24 26L22.8 27L20.5 27L16.8 30.8L15.5 28.8L14.8 28.8L13.8 30.2L12.8 30.5L12 30L10.5 30L7.2 31L6.5 29.5L5.2 29.5L2.8 32.2L1 33.2L0 33.2L0 79.8L0.8 80.2L0 81.2L0 84L1.5 83.8L2.5 79.8L5 78.2L5 77.5L4.2 76.8L2.8 77.5L2 77L2.8 76.2L7.2 75.5L8 74.8L8.2 73.2L7.8 72.2L8.5 71.2L9 71.2L9.8 72.5L12.5 71L12.8 69.5L13.5 68.8L16.2 68.5L17.2 66.8L20.5 65L22.5 64.8L23.5 65.5L25 64L24.8 62L25.2 61.5L29 62.8L30 60.2L33.8 59.2L34.5 57.5L37 56.2L37.8 56.5L38.5 55.5L39.8 55.5L40.2 53.5L41.5 52.5L43 52.2L44 53.5L44.5 52.8L45.5 52.5L45.8 51.5L47 50.5L49.8 50.8L49.5 49.8L48.2 48.5L48.5 47.2L49.5 46.5L48 44.8L48.2 40.2L49.5 38.2L48.8 36L49.2 32.5L48.5 31.5L46.5 30.8L45.8 27.5L44 26.5ZM97 0L104.8 6.8L104.8 0ZM0 0L0 9.8L3 9.8L12.2 11.2L21.2 11.8L28.5 13L31 11.5L41.8 8L46.5 8L49 8.8L54 11.8L59.8 17.2L62.8 21.5L64.8 26L59 28.2L55 31.8L53.2 34.8L52 39L52.2 44.2L54 48.5L57.2 52.2L62.8 55.2L61.8 57.5L57 62.5L44 70.5L23.2 86.5L20 90.5L17 96.2L15.2 100.8L14.8 103.8L77.8 103.8L83.5 99.5L98 87.2L103.8 81.2L104.8 79.5L104.8 29.5L101.5 24.2L97.2 19L89.8 12L83 7.2L77.8 4.2L72.5 2L65.2 0Z"/><path fill="#3a6df6" d="M43.5 25.2L43 25.2L43.2 26.8L41.2 27.5L40.2 27.2L40.8 26.2L40.2 25.8L38.2 26.5L36 25.8L33.5 25.8L32 26.8L30 25.5L27.8 26.5L27.2 27.8L25.8 27.5L24.5 26L24 26L22.8 27L20.5 27L16.8 30.8L15.5 28.8L14.8 28.8L13.8 30.2L12.8 30.5L12 30L10.5 30L7.2 31L6.5 29.5L5.2 29.5L2.8 32.2L1 33.2L0 33.2L0 79.8L0.8 80.2L0 81.2L0 84L1.5 83.8L2.5 79.8L5 78.2L5 77.5L4.2 76.8L2.8 77.5L2 77L2.8 76.2L7.2 75.5L8 74.8L8.2 73.2L7.8 72.2L8.5 71.2L9 71.2L9.8 72.5L12.5 71L12.8 69.5L13.5 68.8L16.2 68.5L17.2 66.8L20.5 65L22.5 64.8L23.5 65.5L25 64L24.8 62L25.2 61.5L29 62.8L30 60.2L33.8 59.2L34.5 57.5L37 56.2L37.8 56.5L38.5 55.5L39.8 55.5L40.2 53.5L41.5 52.5L43 52.2L44 53.5L44.5 52.8L45.5 52.5L45.8 51.5L47 50.5L49.8 50.8L49.5 49.8L48.2 48.5L48.5 47.2L49.5 46.5L48 44.8L48.2 40.2L49.5 38.2L48.8 36L49.2 32.5L48.5 31.5L46.5 30.8L45.8 27.5L44 26.5ZM101.5 0L104.8 2.8L104.8 0ZM0 0L0 5L2.5 5.2L10.5 7.2L20 8.5L29.2 11L41.5 6.5L45.8 6.2L49.2 7.2L54.5 10.5L60 15.5L64.5 21.5L66.2 25.2L66 26.2L60.8 27.5L55.8 31L53.2 35L52 39.8L52.5 44.8L54.8 49.5L58.8 53.2L62 54.8L64.8 55.2L65.2 56L62.5 60.5L58.5 64.2L46 72L27.5 86.8L24 90.2L22.2 92.8L19.8 98L18.5 103.8L77.8 103.8L83.5 99.5L98 87.2L103.8 81.2L104.8 79.5L104.8 29.5L101.5 24.2L97.2 19L89.8 12L83 7.2L77.8 4.2L72.5 2L65.2 0Z"/><path fill="#347af6" d="M43.5 25.2L43 25.2L43.2 26.8L41.2 27.5L40.2 27.2L40.8 26.2L40.2 25.8L38.2 26.5L36 25.8L33.5 25.8L32 26.8L30 25.5L27.8 26.5L27.2 27.8L25.8 27.5L24.5 26L24 26L22.8 27L20.5 27L16.8 30.8L15.5 28.8L14.8 28.8L13.8 30.2L12.8 30.5L12 30L10.5 30L7.2 31L6.5 29.5L5.2 29.5L2.8 32.2L1 33.2L0 33.2L0 79.8L0.8 80.2L0 81.2L0 84L1.5 83.8L2.5 79.8L5 78.2L5 77.5L4.2 76.8L2.8 77.5L2 77L2.8 76.2L7.2 75.5L8 74.8L8.2 73.2L7.8 72.2L8.5 71.2L9 71.2L9.8 72.5L12.5 71L12.8 69.5L13.5 68.8L16.2 68.5L17.2 66.8L20.5 65L22.5 64.8L23.5 65.5L25 64L24.8 62L25.2 61.5L29 62.8L30 60.2L33.8 59.2L34.5 57.5L37 56.2L37.8 56.5L38.5 55.5L39.8 55.5L40.2 53.5L41.5 52.5L43 52.2L44 53.5L44.5 52.8L45.5 52.5L45.8 51.5L47 50.5L49.8 50.8L49.5 49.8L48.2 48.5L48.5 47.2L49.5 46.5L48 44.8L48.2 40.2L49.5 38.2L48.8 36L49.2 32.5L48.5 31.5L46.5 30.8L45.8 27.5L44 26.5ZM10 0L11.2 1.8L13.8 3L30.8 9L42.8 4.8L46.2 4.8L48.8 5.5L54.2 8.8L62.5 16.5L65.5 20.5L67.8 25.2L67.5 26.2L65.8 26.2L61 27.5L57.2 29.8L54.2 33.2L52.2 38.8L52.2 43.5L53.2 46.8L54.8 49.2L57 51.8L60.5 54L63.5 55L67.5 55.5L67.8 56.2L66.2 59.2L63.5 62.8L60.5 65.5L45.5 75.2L31 87.5L26.5 92L23 98.2L22 103.8L77.8 103.8L83.5 99.5L98 87.2L103.8 81.2L104.8 79.5L104.8 29.5L99.8 22L92.8 14.5L87.5 10.2L79.8 5.2L72.5 2L65.2 0Z"/><path fill="#2e86f7" d="M43.5 25.2L43 25.2L43.2 26.8L41.2 27.5L40.2 27.2L40.8 26.2L40.2 25.8L38.2 26.5L36 25.8L33.5 25.8L32 26.8L30 25.5L27.8 26.5L27.2 27.8L25.8 27.5L24.5 26L24 26L22.8 27L20.5 27L16.8 30.8L15.5 28.8L14.8 28.8L13.8 30.2L12.8 30.5L12 30L10.5 30L7.2 31L6.5 29.5L5.2 29.5L2.8 32.2L1 33.2L0 33.2L0 79.8L0.8 80.2L0 81.2L0 84L1.5 83.8L2.5 79.8L5 78.2L5 77.5L4.2 76.8L2.8 77.5L2 77L2.8 76.2L7.2 75.5L8 74.8L8.2 73.2L7.8 72.2L8.5 71.2L9 71.2L9.8 72.5L12.5 71L12.8 69.5L13.5 68.8L16.2 68.5L17.2 66.8L20.5 65L22.5 64.8L23.5 65.5L25 64L24.8 62L25.2 61.5L29 62.8L30 60.2L33.8 59.2L34.5 57.5L37 56.2L37.8 56.5L38.5 55.5L39.8 55.5L40.2 53.5L41.5 52.5L43 52.2L44 53.5L44.5 52.8L45.5 52.5L45.8 51.5L47 50.5L49.8 50.8L49.5 49.8L48.2 48.5L48.5 47.2L49.5 46.5L48 44.8L48.2 40.2L49.5 38.2L48.8 36L49.2 32.5L48.5 31.5L46.5 30.8L45.8 27.5L44 26.5ZM23 0L24 2L25.5 3.2L32.8 7.2L42.5 3.2L45.2 3L48.5 3.8L54.5 7.5L62.8 15L67.2 20.8L69.5 26.2L65.2 26.5L60.8 27.8L56.2 30.8L53.2 35.5L52.2 39.5L52.2 42.8L53.2 46.5L54.5 48.8L58.8 53L64.5 55L70.5 55.2L68.8 59.5L63.8 65.5L60 68.5L46 77.8L29.8 92.8L26.5 97.8L25.5 100.8L25.2 103.8L78.2 103.5L98 87.2L103.8 81.2L104.8 79.5L104.5 29L99.8 22L92.8 14.5L83 7.2L79.8 5.2L72.5 2L65.2 0Z"/><path fill="#2790f0" d="M43.5 25.2L43 25.2L43.2 26.8L41.2 27.5L40.2 27.2L40.8 26.2L40.2 25.8L38.2 26.5L36 25.8L33.5 25.8L32 26.8L30 25.5L27.8 26.5L27.2 27.8L25.8 27.5L24.5 26L24 26L22.8 27L20.5 27L16.8 30.8L15.5 28.8L14.8 28.8L13.8 30.2L12.8 30.5L12 30L10.5 30L7.2 31L6.5 29.5L5.2 29.5L2.8 32.2L1 33.2L0 33.2L0 79.8L0.8 80.2L0 81.2L0 84L1.5 83.8L2.5 79.8L5 78.2L5 77.5L4.2 76.8L2.8 77.5L2 77L2.8 76.2L7.2 75.5L8 74.8L8.2 73.2L7.8 72.2L8.5 71.2L9 71.2L9.8 72.5L12.5 71L12.8 69.5L13.5 68.8L16.2 68.5L17.2 66.8L20.5 65L22.5 64.8L23.5 65.5L25 64L24.8 62L25.2 61.5L29 62.8L30 60.2L33.8 59.2L34.5 57.5L37 56.2L37.8 56.5L38.5 55.5L39.8 55.5L40.2 53.5L41.5 52.5L43 52.2L44 53.5L44.5 52.8L45.5 52.5L45.8 51.5L47 50.5L49.8 50.8L49.5 49.8L48.2 48.5L48.5 47.2L49.5 46.5L48 44.8L48.2 40.2L49.5 38.2L48.8 36L49.2 32.5L48.5 31.5L46.5 30.8L45.8 27.5L44 26.5ZM29.8 0L31 2.8L34.2 5.2L43 1.5L47 1.5L49.5 2.5L53.8 5.5L61.5 12.2L67.8 19.2L70.2 23.8L71 26.5L63.5 27L60.5 28L57.2 30L54.8 32.8L53 36.5L52.2 40.2L52.5 43.8L53.2 46.2L55 49.2L59 53L64.2 54.8L67.5 55L72.8 54L73 55L70.8 60.5L66.2 66L61.5 70L48.2 78.8L34.5 91.8L30.5 96.8L28.8 100.8L28.5 103.8L77.8 103.8L83.5 99.5L98 87.2L103.8 81.2L104.8 79.5L104.8 29.5L99.8 22L92.8 14.5L83 7.2L79.8 5.2L72.5 2L65.2 0Z"/><path fill="#219ae8" d="M43.5 25.2L43 25.2L43.2 26.8L41.2 27.5L40.2 27.2L40.8 26.2L40.2 25.8L38.2 26.5L36 25.8L33.5 25.8L32 26.8L30 25.5L27.8 26.5L27.2 27.8L25.8 27.5L24.5 26L24 26L22.8 27L20.5 27L16.8 30.8L15.5 28.8L14.8 28.8L13.8 30.2L12.8 30.5L12 30L10.5 30L7.2 31L6.5 29.5L5.2 29.5L2.8 32.2L1 33.2L0 33.2L0 79.8L0.8 80.2L0 81.2L0 84L1.5 83.8L2.5 79.8L5 78.2L5 77.5L4.2 76.8L2.8 77.5L2 77L2.8 76.2L7.2 75.5L8 74.8L8.2 73.2L7.8 72.2L8.5 71.2L9 71.2L9.8 72.5L12.5 71L12.8 69.5L13.5 68.8L16.2 68.5L17.2 66.8L20.5 65L22.5 64.8L23.5 65.5L25 64L24.8 62L25.2 61.5L29 62.8L30 60.2L33.8 59.2L34.5 57.5L37 56.2L37.8 56.5L38.5 55.5L39.8 55.5L40.2 53.5L41.5 52.5L43 52.2L44 53.5L44.5 52.8L45.5 52.5L45.8 51.5L47 50.5L49.8 50.8L49.5 49.8L48.2 48.5L48.5 47.2L49.5 46.5L48 44.8L48.2 40.2L49.5 38.2L48.8 36L49.2 32.5L48.5 31.5L46.5 30.8L45.8 27.5L44 26.5ZM48.2 0L53.5 3.8L66.5 16L70.5 21.2L72.5 27L72.2 27.5L67 26.8L64.2 27L60.2 28.2L56.2 31L55 32.5L52.8 38L52.5 43.2L53.2 46L55.5 49.8L57.5 51.8L60.2 53.5L63.8 54.5L67.5 54.8L71.2 54.2L75.2 52.5L75.2 55.5L72.5 61.8L66.2 68.8L49.2 80.8L39 90.8L33.2 98L31.8 101.5L31.5 103.8L77.8 103.8L83.5 99.5L98 87.2L103.8 81.2L104.8 79.5L104.8 29.5L99.8 22L92.8 14.5L87.5 10.2L79.8 5.2L72.5 2L65.2 0ZM35.2 2.2L36 3L36.8 3L40 1L42.8 0L34.5 0Z"/><path fill="#1aa4e0" d="M43.5 25.2L43 25.2L43.2 26.8L41.2 27.5L40.2 27.2L40.8 26.2L40.2 25.8L38.2 26.5L36 25.8L33.5 25.8L32 26.8L30 25.5L27.8 26.5L27.2 27.8L25.8 27.5L24.5 26L24 26L22.8 27L20.5 27L16.8 30.8L15.5 28.8L14.8 28.8L13.8 30.2L12.8 30.5L12 30L10.5 30L7.2 31L6.5 29.5L5.2 29.5L2.8 32.2L1 33.2L0 33.2L0 79.8L0.8 80.2L0 81.2L0 84L1.5 83.8L2.5 79.8L5 78.2L5 77.5L4.2 76.8L2.8 77.5L2 77L2.8 76.2L7.2 75.5L8 74.8L8.2 73.2L7.8 72.2L8.5 71.2L9 71.2L9.8 72.5L12.5 71L12.8 69.5L13.5 68.8L16.2 68.5L17.2 66.8L20.5 65L22.5 64.8L23.5 65.5L25 64L24.8 62L25.2 61.5L29 62.8L30 60.2L33.8 59.2L34.5 57.5L37 56.2L37.8 56.5L38.5 55.5L39.8 55.5L40.2 53.5L41.5 52.5L43 52.2L44 53.5L44.5 52.8L45.5 52.5L45.8 51.5L47 50.5L49.8 50.8L49.5 49.8L48.2 48.5L48.5 47.2L49.5 46.5L48 44.8L48.2 40.2L49.5 38.2L48.8 36L49.2 32.5L48.5 31.5L46.5 30.8L45.8 27.5L44 26.5ZM51.5 0L69.8 18L72.5 22.2L73.8 26.2L73.5 28L65 27L60 28.5L57.2 30.2L55.2 32.2L53 37.2L52.5 42.5L53.5 46.2L55.2 49.2L58 52L60 53.2L65.2 54.5L70.2 54.2L77.2 50.5L77.8 51.5L77.8 54.8L75.8 60.5L72 65.8L65.8 71.8L50.8 82.2L43.2 89.8L36.5 98.2L35 101.8L34.8 103.8L77.8 103.8L83.5 99.5L98 87.2L103.8 81.2L104.8 79.5L104.8 29.5L99.8 22L92.8 14.5L87.5 10.2L79.8 5.2L72.5 2L65.2 0Z"/><path fill="#14aed9" d="M43.5 25.2L43 25.2L43.2 26.8L41.2 27.5L40.2 27.2L40.8 26.2L40.2 25.8L38.2 26.5L36 25.8L33.5 25.8L32 26.8L30 25.5L27.8 26.5L27.2 27.8L25.8 27.5L24.5 26L24 26L22.8 27L20.5 27L16.8 30.8L15.5 28.8L14.8 28.8L13.8 30.2L12.8 30.5L12 30L10.5 30L7.2 31L6.5 29.5L5.2 29.5L2.8 32.2L1 33.2L0 33.2L0 79.8L0.8 80.2L0 81.2L0 84L1.5 83.8L2.5 79.8L5 78.2L5 77.5L4.2 76.8L2.8 77.5L2 77L2.8 76.2L7.2 75.5L8 74.8L8.2 73.2L7.8 72.2L8.5 71.2L9 71.2L9.8 72.5L12.5 71L12.8 69.5L13.5 68.8L16.2 68.5L17.2 66.8L20.5 65L22.5 64.8L23.5 65.5L25 64L24.8 62L25.2 61.5L29 62.8L30 60.2L33.8 59.2L34.5 57.5L37 56.2L37.8 56.5L38.5 55.5L39.8 55.5L40.2 53.5L41.5 52.5L43 52.2L44 53.5L44.5 52.8L45.5 52.5L45.8 51.5L47 50.5L49.8 50.8L49.5 49.8L48.2 48.5L48.5 47.2L49.5 46.5L48 44.8L48.2 40.2L49.5 38.2L48.8 36L49.2 32.5L48.5 31.5L46.5 30.8L45.8 27.5L44 26.5ZM53.5 0L57.2 4.8L66.5 13L71 17.8L73.8 22L75.2 27L75 29L68.5 27.2L63.2 27.5L59.2 29L56.5 31L54.5 33.8L55 34.8L56.8 35.5L57.2 36.2L56 39L56 40.2L58 42L60.8 41.5L62 43.2L60.5 45.2L60.5 48L59.8 48.8L59 48.8L56.8 47.5L56.2 44.2L52.8 40.5L52.8 43.5L53.5 46L55.2 49L59.2 52.8L61 53.5L65.2 52.8L67 53.2L68.2 54.2L71.5 53.5L72 53L71.8 51.5L73.2 50L74 49.8L74.8 50.5L74.8 51.2L75.8 51.2L79 48L80 51.2L80 55.5L77.8 61.2L74 66.5L66 74L54 82.2L45.5 90.8L40 98L38.5 101.2L38.2 103.8L77.8 103.8L83.5 99.5L98 87.2L103.8 81.2L104.8 79.5L104.8 29.5L99.8 22L92.8 14.5L87.5 10.2L79.8 5.2L72.5 2L65.2 0ZM78.2 43.5L79.5 44.5L79 45.5L78 45.5L77.5 44.8ZM78.5 34.8L79.5 36.8L79.8 38.8L77.8 39.5L77.5 35.5Z"/><path fill="#17b5cd" d="M52.8 42.2L53.5 45.8L54.8 48L54.8 44.2ZM43.5 25.2L43 25.2L43.2 26.8L41.2 27.5L40.2 27.2L40.8 26.2L40.2 25.8L38.2 26.5L36 25.8L33.5 25.8L32 26.8L30 25.5L27.8 26.5L27.2 27.8L25.8 27.5L24.5 26L24 26L22.8 27L20.5 27L16.8 30.8L15.5 28.8L14.8 28.8L13.8 30.2L12.8 30.5L12 30L10.5 30L7.2 31L6.5 29.5L5.2 29.5L2.8 32.2L1 33.2L0 33.2L0 79.8L0.8 80.2L0 81.2L0 84L1.5 83.8L2.5 79.8L5 78.2L5 77.5L4.2 76.8L2.8 77.5L2 77L2.8 76.2L7.2 75.5L8 74.8L8.2 73.2L7.8 72.2L8.5 71.2L9 71.2L9.8 72.5L12.5 71L12.8 69.5L13.5 68.8L16.2 68.5L17.2 66.8L20.5 65L22.5 64.8L23.5 65.5L25 64L24.8 62L25.2 61.5L29 62.8L30 60.2L33.8 59.2L34.5 57.5L37 56.2L37.8 56.5L38.5 55.5L39.8 55.5L40.2 53.5L41.5 52.5L43 52.2L44 53.5L44.5 52.8L45.5 52.5L45.8 51.5L47 50.5L49.8 50.8L49.5 49.8L48.2 48.5L48.5 47.2L49.5 46.5L48 44.8L48.2 40.2L49.5 38.2L48.8 36L49.2 32.5L48.5 31.5L46.5 30.8L45.8 27.5L44 26.5ZM55.2 0L59 5.2L72 17.2L75 21.8L76.5 26.2L76.2 30.5L73 28.5L66.5 27.2L64.8 27.5L64 28.2L64 29.5L67.8 29.2L68.8 30.2L68.8 31.8L68.2 32.5L66 34L65.2 34L63.5 31.5L60.8 31.5L59.2 29.2L55.5 32.2L54.8 33.8L55.5 34.5L57.5 34.8L58.8 35.5L57 39.8L58.5 40.2L59.8 39.5L63.2 43.2L65.5 43.2L66.5 44L66.5 44.8L65.5 45.8L63.2 44.2L62 44.5L61.2 45.2L61.2 49L60 50.2L57.5 51.2L60.8 53.2L62.2 52.2L65.5 51.8L70.2 53.8L70.8 53.5L70.2 52.2L71 49.8L73 48.5L74.5 46.2L75.8 46.2L76.8 48L75.8 50.5L78.5 48L78.8 46.8L76.5 45.8L77 43L78.5 42.5L79.5 43L80.5 44.5L82.2 51L82.5 55L82 57.2L79.8 62L75.5 67.8L68.8 74.2L56 83.2L49.5 89.5L43 98.2L41.8 101L41.5 103.8L77.8 103.8L83.5 99.5L98 87.2L103.8 81.2L104.8 79.5L104.8 29.5L99.8 22L92.8 14.5L87.5 10.2L79.8 5.2L68.8 0.8L65.2 0ZM78.2 34L79.8 36L80.2 39L77.2 41L76.5 41L75.8 40.2L76.2 36ZM71.5 33.5L72.8 32.5L74.5 32.5L75.5 33.8L75.5 35.2L74.8 36L73.5 36.2Z"/><path fill="#20babe" d="M68 49L66.5 50L66.5 51L67.5 51.8L68.8 51.8L69.2 51.2L69.2 50ZM62.2 45.5L61.8 51L63.5 51.2L65 50.5L64 46.2L63.2 45.5ZM59 31.8L58.2 31L57 31L55.2 32.8L55.2 33.5L57.2 34L59 32.8ZM72 28.5L70.8 29.2L69.2 32.2L66 35L65 35L63 32.8L60.8 33.2L60.2 34.2L60.2 38.5L62.8 42L64.2 42.8L66.5 42.8L67.8 43.5L67 46.5L68.5 48L72.2 47.5L74 45L75.2 44.8L76 43.8L76 42L75 40.8L75.5 38L75.2 36.8L72.2 37.2L72 40.5L69.5 42.2L68.2 40L67.8 37L72 32.2L75.2 31.2L75.2 30.5L74 29.2ZM43.5 25.2L43 25.2L43.2 26.8L41.2 27.5L40.2 27.2L40.8 26.2L40.2 25.8L38.2 26.5L36 25.8L33.5 25.8L32 26.8L30 25.5L27.8 26.5L27.2 27.8L25.8 27.5L24.5 26L24 26L22.8 27L20.5 27L16.8 30.8L15.5 28.8L14.8 28.8L13.8 30.2L12.8 30.5L12 30L10.5 30L7.2 31L6.5 29.5L5.2 29.5L2.8 32.2L1 33.2L0 33.2L0 79.8L0.8 80.2L0 81.2L0 84L1.5 83.8L2.5 79.8L5 78.2L5 77.5L4.2 76.8L2.8 77.5L2 77L2.8 76.2L7.2 75.5L8 74.8L8.2 73.2L7.8 72.2L8.5 71.2L9 71.2L9.8 72.5L12.5 71L12.8 69.5L13.5 68.8L16.2 68.5L17.2 66.8L20.5 65L22.5 64.8L23.5 65.5L25 64L24.8 62L25.2 61.5L29 62.8L30 60.2L33.8 59.2L34.5 57.5L37 56.2L37.8 56.5L38.5 55.5L39.8 55.5L40.2 53.5L41.5 52.5L43 52.2L44 53.5L44.5 52.8L45.5 52.5L45.8 51.5L47 50.5L49.8 50.8L49.5 49.8L48.2 48.5L48.5 47.2L49.5 46.5L48 44.8L48.2 40.2L49.5 38.2L48.8 36L49.2 32.5L48.5 31.5L46.5 30.8L45.8 27.5L44 26.5ZM56.8 0L59.8 4.8L68.5 12.2L75.2 19.8L77.2 24L78 27.2L77.8 32L76.2 32.2L76.2 33.5L76.8 34L78.2 33.2L79.8 35L80.8 38L80.8 39.5L79.2 40.2L78.5 41.2L79.8 42.2L81 41.2L84.5 50.5L85 54.5L83 60.5L78.2 67.5L70.8 75L59.2 83.2L53.5 88.2L50.2 92L46 98.2L44.8 101.2L44.5 103.8L77.8 103.8L83.5 99.5L98 87.2L103.8 81.2L104.8 79.5L104.8 29.5L99.8 22L92.8 14.5L87.5 10.2L79.8 5.2L68.8 0.8L65.2 0Z"/><path fill="#29bfaf" d="M74.5 37.5L73 37.8L73.8 40L70.2 44L68 45.5L68.5 46.8L71.8 46.8L72.8 44.5L75.2 43.2L75.2 42.2L73.8 40.2L74.8 38.2ZM62 33.8L61.2 34.5L61 38.2L62 40.2L64.2 42.2L67.2 42L67.8 40.5L66.5 36.5L64.2 35.8L62.8 33.8ZM73.2 29.2L72.2 30.5L72.8 31L74.2 30ZM43.5 25.2L43 25.2L43.2 26.8L41.2 27.5L40.2 27.2L40.8 26.2L40.2 25.8L38.2 26.5L36 25.8L33.5 25.8L32 26.8L30 25.5L27.8 26.5L27.2 27.8L25.8 27.5L24.5 26L24 26L22.8 27L20.5 27L16.8 30.8L15.5 28.8L14.8 28.8L13.8 30.2L12.8 30.5L12 30L10.5 30L7.2 31L6.5 29.5L5.2 29.5L2.8 32.2L1 33.2L0 33.2L0 79.8L0.8 80.2L0 81.2L0 84L1.5 83.8L2.5 79.8L5 78.2L5 77.5L4.2 76.8L2.8 77.5L2 77L2.8 76.2L7.2 75.5L8 74.8L8.2 73.2L7.8 72.2L8.5 71.2L9 71.2L9.8 72.5L12.5 71L12.8 69.5L13.5 68.8L16.2 68.5L17.2 66.8L20.5 65L22.5 64.8L23.5 65.5L25 64L24.8 62L25.2 61.5L29 62.8L30 60.2L33.8 59.2L34.5 57.5L37 56.2L37.8 56.5L38.5 55.5L39.8 55.5L40.2 53.5L41.5 52.5L43 52.2L44 53.5L44.5 52.8L45.5 52.5L45.8 51.5L47 50.5L49.8 50.8L49.5 49.8L48.2 48.5L48.5 47.2L49.5 46.5L48 44.8L48.2 40.2L49.5 38.2L48.8 36L49.2 32.5L48.5 31.5L46.5 30.8L45.8 27.5L44 26.5ZM58 0L60.5 4.2L70.8 13L75.2 17.8L76.8 20L79 25.2L79 32.2L86.5 49.2L87.5 53L87.5 55L85 61.2L79.2 69.2L71.2 77L58 86.8L53 92L48.2 99.5L47.5 103.8L77.8 103.8L83.5 99.5L98 87.2L103.8 81.2L104.8 79.5L104.8 29.5L101.5 24.2L97.2 19L89.8 12L83 7.2L77.8 4.2L68.8 0.8L65.2 0Z"/><path fill="#31c5a0" d="M62.2 35.8L61.8 38.5L63 41L64.2 41.8L66.5 41.5L67 40.2L66 37.5ZM43.5 25.2L43 25.2L43.2 26.8L41.2 27.5L40.2 27.2L40.8 26.2L40.2 25.8L38.2 26.5L36 25.8L33.5 25.8L32 26.8L30 25.5L27.8 26.5L27.2 27.8L25.8 27.5L24.5 26L24 26L22.8 27L20.5 27L16.8 30.8L15.5 28.8L14.8 28.8L13.8 30.2L12.8 30.5L12 30L10.5 30L7.2 31L6.5 29.5L5.2 29.5L2.8 32.2L1 33.2L0 33.2L0 79.8L0.8 80.2L0 81.2L0 84L1.5 83.8L2.5 79.8L5 78.2L5 77.5L4.2 76.8L2.8 77.5L2 77L2.8 76.2L7.2 75.5L8 74.8L8.2 73.2L7.8 72.2L8.5 71.2L9 71.2L9.8 72.5L12.5 71L12.8 69.5L13.5 68.8L16.2 68.5L17.2 66.8L20.5 65L22.5 64.8L23.5 65.5L25 64L24.8 62L25.2 61.5L29 62.8L30 60.2L33.8 59.2L34.5 57.5L37 56.2L37.8 56.5L38.5 55.5L39.8 55.5L40.2 53.5L41.5 52.5L43 52.2L44 53.5L44.5 52.8L45.5 52.5L45.8 51.5L47 50.5L49.8 50.8L49.5 49.8L48.2 48.5L48.5 47.2L49.5 46.5L48 44.8L48.2 40.2L49.5 38.2L48.8 36L49.2 32.5L48.5 31.5L46.5 30.8L45.8 27.5L44 26.5ZM59.2 0L60.8 3.2L64.2 6.8L72.8 13.5L78.2 20.2L80.5 26L80.5 31.5L89.5 50.5L90.2 54.8L89.5 57.5L87 62L79.8 71.5L72.2 78.5L59.2 88.2L55.2 92.5L51 99.5L50.2 103.8L77.8 103.8L83.5 99.5L98 87.2L103.8 81.2L104.8 79.5L104.8 29.5L101.5 24.2L97.2 19L89.8 12L83 7.2L77.8 4.2L68.8 0.8L65.2 0Z"/><path fill="#41c88f" d="M63 37.2L63.8 40.2L64.2 41L65.5 41L66 40.5L65.5 38ZM43.5 25.2L43 25.2L43.2 26.8L41.2 27.5L40.2 27.2L40.8 26.2L40.2 25.8L38.2 26.5L36 25.8L33.5 25.8L32 26.8L30 25.5L27.8 26.5L27.2 27.8L25.8 27.5L24.5 26L24 26L22.8 27L20.5 27L16.8 30.8L15.5 28.8L14.8 28.8L13.8 30.2L12.8 30.5L12 30L10.5 30L7.2 31L6.5 29.5L5.2 29.5L2.8 32.2L1 33.2L0 33.2L0 79.8L0.8 80.2L0 81.2L0 84L1.5 83.8L2.5 79.8L5 78.2L5 77.5L4.2 76.8L2.8 77.5L2 77L2.8 76.2L7.2 75.5L8 74.8L8.2 73.2L7.8 72.2L8.5 71.2L9 71.2L9.8 72.5L12.5 71L12.8 69.5L13.5 68.8L16.2 68.5L17.2 66.8L20.5 65L22.5 64.8L23.5 65.5L25 64L24.8 62L25.2 61.5L29 62.8L30 60.2L33.8 59.2L34.5 57.5L37 56.2L37.8 56.5L38.5 55.5L39.8 55.5L40.2 53.5L41.5 52.5L43 52.2L44 53.5L44.5 52.8L45.5 52.5L45.8 51.5L47 50.5L49.8 50.8L49.5 49.8L48.2 48.5L48.5 47.2L49.5 46.5L48 44.8L48.2 40.2L49.5 38.2L48.8 36L49.2 32.5L48.5 31.5L46.5 30.8L45.8 27.5L44 26.5ZM60 0L61.8 3.5L72.2 11.8L77 16.5L79 19.2L81.8 25.5L82.2 31.2L89.5 46L92.2 50.5L93 52.5L93 55.8L90.8 60.2L82.2 71.5L74.8 78.8L62.5 88L57.5 93L54 98.5L53 101.2L52.8 103.8L77.8 103.8L83.5 99.5L98 87.2L103.8 81.2L104.8 79.5L104.8 29.5L101.5 24.2L97.2 19L89.8 12L83 7.2L77.8 4.2L68.8 0.8L65.2 0Z"/><path fill="#5cc879" d="M43.5 25.2L43 25.2L43.2 26.8L41.2 27.5L40.2 27.2L40.8 26.2L40.2 25.8L38.2 26.5L36 25.8L33.5 25.8L32 26.8L30 25.5L27.8 26.5L27.2 27.8L25.8 27.5L24.5 26L24 26L22.8 27L20.5 27L16.8 30.8L15.5 28.8L14.8 28.8L13.8 30.2L12.8 30.5L12 30L10.5 30L7.2 31L6.5 29.5L5.2 29.5L2.8 32.2L1 33.2L0 33.2L0 79.8L0.8 80.2L0 81.2L0 84L1.5 83.8L2.5 79.8L5 78.2L5 77.5L4.2 76.8L2.8 77.5L2 77L2.8 76.2L7.2 75.5L8 74.8L8.2 73.2L7.8 72.2L8.5 71.2L9 71.2L9.8 72.5L12.5 71L12.8 69.5L13.5 68.8L16.2 68.5L17.2 66.8L20.5 65L22.5 64.8L23.5 65.5L25 64L24.8 62L25.2 61.5L29 62.8L30 60.2L33.8 59.2L34.5 57.5L37 56.2L37.8 56.5L38.5 55.5L39.8 55.5L40.2 53.5L41.5 52.5L43 52.2L44 53.5L44.5 52.8L45.5 52.5L45.8 51.5L47 50.5L49.8 50.8L49.5 49.8L48.2 48.5L48.5 47.2L49.5 46.5L48 44.8L48.2 40.2L49.5 38.2L48.8 36L49.2 32.5L48.5 31.5L46.5 30.8L45.8 27.5L44 26.5ZM60.8 0L61.8 2.5L63.8 4.5L72 10.2L79.5 18L82.5 23.5L83.5 27L83.8 30.5L90.2 43.2L95 50L96.5 53.2L96.5 55.2L95.2 58L84.2 72L76 80L62.8 90.2L59.2 94L56.2 99L55.2 103.8L77.8 103.8L83.5 99.5L98 87.2L103.8 81.2L104.8 79.5L104.8 29.5L101.5 24.2L97.2 19L92.8 14.5L87.5 10.2L79.8 5.2L72.5 2L65.2 0Z"/><path fill="#77c763" d="M43.5 25.2L43 25.2L43.2 26.8L41.2 27.5L40.2 27.2L40.8 26.2L40.2 25.8L38.2 26.5L36 25.8L33.5 25.8L32 26.8L30 25.5L27.8 26.5L27.2 27.8L25.8 27.5L24.5 26L24 26L22.8 27L20.5 27L16.8 30.8L15.5 28.8L14.8 28.8L13.8 30.2L12.8 30.5L12 30L10.5 30L7.2 31L6.5 29.5L5.2 29.5L2.8 32.2L1 33.2L0 33.2L0 79.8L0.8 80.2L0 81.2L0 84L1.5 83.8L2.5 79.8L5 78.2L5 77.5L4.2 76.8L2.8 77.5L2 77L2.8 76.2L7.2 75.5L8 74.8L8.2 73.2L7.8 72.2L8.5 71.2L9 71.2L9.8 72.5L12.5 71L12.8 69.5L13.5 68.8L16.2 68.5L17.2 66.8L20.5 65L22.5 64.8L23.5 65.5L25 64L24.8 62L25.2 61.5L29 62.8L30 60.2L33.8 59.2L34.5 57.5L37 56.2L37.8 56.5L38.5 55.5L39.8 55.5L40.2 53.5L41.5 52.5L43 52.2L44 53.5L44.5 52.8L45.5 52.5L45.8 51.5L47 50.5L49.8 50.8L49.5 49.8L48.2 48.5L48.5 47.2L49.5 46.5L48 44.8L48.2 40.2L49.5 38.2L48.8 36L49.2 32.5L48.5 31.5L46.5 30.8L45.8 27.5L44 26.5ZM61.5 0L62.2 2.2L63.8 3.8L71.8 8.8L80 16.8L83.2 22L84.8 26.2L85 29.5L91 40.8L94.5 45.8L100 51.5L101.2 53.5L101.2 55.2L100.5 56.5L93.2 63.8L86 72.8L77.5 81L65 90.8L62 93.8L59 98.2L57.8 102L57.8 103.8L77.8 103.8L83.5 99.5L98 87.2L103.8 81.2L104.8 79.5L104.8 29.5L101.5 24.2L97.2 19L92.8 14.5L87.5 10.2L79.8 5.2L72.5 2L65.2 0Z"/><path fill="#92c74d" d="M104.8 59.5L100.5 60.8L96 64L87.8 73.5L81 80.2L67.5 91L63.5 95L61.5 98L60.5 100.2L60 103.8L77.8 103.8L83.5 99.5L98 87.2L103.8 81.2L104.8 79.5ZM43.5 25.2L43 25.2L43.2 26.8L41.2 27.5L40.2 27.2L40.8 26.2L40.2 25.8L38.2 26.5L36 25.8L33.5 25.8L32 26.8L30 25.5L27.8 26.5L27.2 27.8L25.8 27.5L24.5 26L24 26L22.8 27L20.5 27L16.8 30.8L15.5 28.8L14.8 28.8L13.8 30.2L12.8 30.5L12 30L10.5 30L7.2 31L6.5 29.5L5.2 29.5L2.8 32.2L1 33.2L0 33.2L0 79.8L0.8 80.2L0 81.2L0 84L1.5 83.8L2.5 79.8L5 78.2L5 77.5L4.2 76.8L2.8 77.5L2 77L2.8 76.2L7.2 75.5L8 74.8L8.2 73.2L7.8 72.2L8.5 71.2L9 71.2L9.8 72.5L12.5 71L12.8 69.5L13.5 68.8L16.2 68.5L17.2 66.8L20.5 65L22.5 64.8L23.5 65.5L25 64L24.8 62L25.2 61.5L29 62.8L30 60.2L33.8 59.2L34.5 57.5L37 56.2L37.8 56.5L38.5 55.5L39.8 55.5L40.2 53.5L41.5 52.5L43 52.2L44 53.5L44.5 52.8L45.5 52.5L45.8 51.5L47 50.5L49.8 50.8L49.5 49.8L48.2 48.5L48.5 47.2L49.5 46.5L48 44.8L48.2 40.2L49.5 38.2L48.8 36L49.2 32.5L48.5 31.5L46.5 30.8L45.8 27.5L44 26.5ZM62 0L62.5 1.8L64 3.2L72.8 8.2L80.2 15.2L84 20.8L86 25.5L86.5 28.8L93.2 40.8L99.2 47L102.5 48.8L104.8 49L104.8 29.5L101.5 24.2L97.2 19L89.8 12L79.8 5.2L68.8 0.8L65.2 0Z"/><path fill="#adc739" d="M104.8 62.8L101.5 63.2L97.2 65.8L82.8 81L68.2 92.8L64 97.8L62.5 101.2L62.2 103.8L77.8 103.8L83.5 99.5L98 87.2L103.8 81.2L104.8 79.5ZM43.5 25.2L43 25.2L43.2 26.8L41.2 27.5L40.2 27.2L40.8 26.2L40.2 25.8L38.2 26.5L36 25.8L33.5 25.8L32 26.8L30 25.5L27.8 26.5L27.2 27.8L25.8 27.5L24.5 26L24 26L22.8 27L20.5 27L16.8 30.8L15.5 28.8L14.8 28.8L13.8 30.2L12.8 30.5L12 30L10.5 30L7.2 31L6.5 29.5L5.2 29.5L2.8 32.2L1 33.2L0 33.2L0 79.8L0.8 80.2L0 81.2L0 84L1.5 83.8L2.5 79.8L5 78.2L5 77.5L4.2 76.8L2.8 77.5L2 77L2.8 76.2L7.2 75.5L8 74.8L8.2 73.2L7.8 72.2L8.5 71.2L9 71.2L9.8 72.5L12.5 71L12.8 69.5L13.5 68.8L16.2 68.5L17.2 66.8L20.5 65L22.5 64.8L23.5 65.5L25 64L24.8 62L25.2 61.5L29 62.8L30 60.2L33.8 59.2L34.5 57.5L37 56.2L37.8 56.5L38.5 55.5L39.8 55.5L40.2 53.5L41.5 52.5L43 52.2L44 53.5L44.5 52.8L45.5 52.5L45.8 51.5L47 50.5L49.8 50.8L49.5 49.8L48.2 48.5L48.5 47.2L49.5 46.5L48 44.8L48.2 40.2L49.5 38.2L48.8 36L49.2 32.5L48.5 31.5L46.5 30.8L45.8 27.5L44 26.5ZM62.5 0L63.8 2.5L73.2 7.5L80.5 13.8L84.8 19.5L87 24L88.2 28.8L95.2 40.2L100 44.5L102 45.5L104.8 46L104.8 29.5L101.5 24.2L97.2 19L89.8 12L79.8 5.2L68.8 0.8L65.2 0Z"/><path fill="#c0c639" d="M104.8 65.2L101 66L97.8 68L84.5 81.8L71 92.8L66 98.2L64.5 102L64.5 103.8L77.8 103.8L83.5 99.5L98 87.2L103.8 81.2L104.8 79.5ZM43.5 25.2L43 25.2L43.2 26.8L41.2 27.5L40.2 27.2L40.8 26.2L40.2 25.8L38.2 26.5L36 25.8L33.5 25.8L32 26.8L30 25.5L27.8 26.5L27.2 27.8L25.8 27.5L24.5 26L24 26L22.8 27L20.5 27L16.8 30.8L15.5 28.8L14.8 28.8L13.8 30.2L12.8 30.5L12 30L10.5 30L7.2 31L6.5 29.5L5.2 29.5L2.8 32.2L1 33.2L0 33.2L0 79.8L0.8 80.2L0 81.2L0 84L1.5 83.8L2.5 79.8L5 78.2L5 77.5L4.2 76.8L2.8 77.5L2 77L2.8 76.2L7.2 75.5L8 74.8L8.2 73.2L7.8 72.2L8.5 71.2L9 71.2L9.8 72.5L12.5 71L12.8 69.5L13.5 68.8L16.2 68.5L17.2 66.8L20.5 65L22.5 64.8L23.5 65.5L25 64L24.8 62L25.2 61.5L29 62.8L30 60.2L33.8 59.2L34.5 57.5L37 56.2L37.8 56.5L38.5 55.5L39.8 55.5L40.2 53.5L41.5 52.5L43 52.2L44 53.5L44.5 52.8L45.5 52.5L45.8 51.5L47 50.5L49.8 50.8L49.5 49.8L48.2 48.5L48.5 47.2L49.5 46.5L48 44.8L48.2 40.2L49.5 38.2L48.8 36L49.2 32.5L48.5 31.5L46.5 30.8L45.8 27.5L44 26.5ZM63 0L63.2 1.2L64.2 2.2L74.8 7.5L78.8 10.5L82.8 14.5L87 20.8L88.2 23.2L89.5 27.8L95.8 37.8L99.5 41.5L101.2 42.5L104.8 43.2L104.8 29.5L101.5 24.2L97.2 19L89.8 12L79.8 5.2L68.8 0.8Z"/><path fill="#d3c538" d="M104.8 67.8L101.5 68.2L97.5 70.8L86 82.8L72.2 94L67.8 99.2L66.5 103.8L78.2 103.5L98 87.2L103.8 81.2L104.8 79.5ZM43.5 25.2L43 25.2L43.2 26.8L41.2 27.5L40.2 27.2L40.8 26.2L40.2 25.8L38.2 26.5L36 25.8L33.5 25.8L32 26.8L30 25.5L27.8 26.5L27.2 27.8L25.8 27.5L24.5 26L24 26L22.8 27L20.5 27L16.8 30.8L15.5 28.8L14.8 28.8L13.8 30.2L12.8 30.5L12 30L10.5 30L7.2 31L6.5 29.5L5.2 29.5L2.8 32.2L1 33.2L0 33.2L0 79.8L0.8 80.2L0 81.2L0 84L1.5 83.8L2.5 79.8L5 78.2L5 77.5L4.2 76.8L2.8 77.5L2 77L2.8 76.2L7.2 75.5L8 74.8L8.2 73.2L7.8 72.2L8.5 71.2L9 71.2L9.8 72.5L12.5 71L12.8 69.5L13.5 68.8L16.2 68.5L17.2 66.8L20.5 65L22.5 64.8L23.5 65.5L25 64L24.8 62L25.2 61.5L29 62.8L30 60.2L33.8 59.2L34.5 57.5L37 56.2L37.8 56.5L38.5 55.5L39.8 55.5L40.2 53.5L41.5 52.5L43 52.2L44 53.5L44.5 52.8L45.5 52.5L45.8 51.5L47 50.5L49.8 50.8L49.5 49.8L48.2 48.5L48.5 47.2L49.5 46.5L48 44.8L48.2 40.2L49.5 38.2L48.8 36L49.2 32.5L48.5 31.5L46.5 30.8L45.8 27.5L44 26.5ZM63.5 0L64.2 1.8L73.2 5.8L80.2 10.5L85.2 15.5L87.5 18.8L89.5 22.5L91.2 27.5L96.5 35.8L100.5 39.5L104.8 40.8L104.8 29.5L99.8 22L92.8 14.5L87.5 10.2L77.8 4.2L68.8 0.8Z"/><path fill="#e7c438" d="M104.8 70L101.2 70.8L98.2 72.8L87 84.2L74.8 94.2L70.2 99L69 101.8L68.8 103.8L78.2 103.5L98 87.2L103.8 81.2L104.8 79.5ZM43.5 25.2L43 25.2L43.2 26.8L41.2 27.5L40.2 27.2L40.8 26.2L40.2 25.8L38.2 26.5L36 25.8L33.5 25.8L32 26.8L30 25.5L27.8 26.5L27.2 27.8L25.8 27.5L24.5 26L24 26L22.8 27L20.5 27L16.8 30.8L15.5 28.8L14.8 28.8L13.8 30.2L12.8 30.5L12 30L10.5 30L7.2 31L6.5 29.5L5.2 29.5L2.8 32.2L1 33.2L0 33.2L0 79.8L0.8 80.2L0 81.2L0 84L1.5 83.8L2.5 79.8L5 78.2L5 77.5L4.2 76.8L2.8 77.5L2 77L2.8 76.2L7.2 75.5L8 74.8L8.2 73.2L7.8 72.2L8.5 71.2L9 71.2L9.8 72.5L12.5 71L12.8 69.5L13.5 68.8L16.2 68.5L17.2 66.8L20.5 65L22.5 64.8L23.5 65.5L25 64L24.8 62L25.2 61.5L29 62.8L30 60.2L33.8 59.2L34.5 57.5L37 56.2L37.8 56.5L38.5 55.5L39.8 55.5L40.2 53.5L41.5 52.5L43 52.2L44 53.5L44.5 52.8L45.5 52.5L45.8 51.5L47 50.5L49.8 50.8L49.5 49.8L48.2 48.5L48.5 47.2L49.5 46.5L48 44.8L48.2 40.2L49.5 38.2L48.8 36L49.2 32.5L48.5 31.5L46.5 30.8L45.8 27.5L44 26.5ZM63.8 0L64.5 1.5L73.2 5L78 7.8L82.5 11.2L87 15.8L89.8 19.5L92.5 26.2L97.8 34.2L101 37.2L102.5 38L104.8 38.2L104.5 29L99.8 22L92.8 14.5L87.5 10.2L79.8 5.2L68.8 0.8Z"/><path fill="#fac338" d="M104.8 72.5L101.8 73L98.8 75L88.5 85.5L76.2 95.5L72 100.2L71 103.8L78.2 103.5L98 87.2L103.8 81.2L104.8 79.5ZM43.5 25.2L43 25.2L43.2 26.8L41.2 27.5L40.2 27.2L40.8 26.2L40.2 25.8L38.2 26.5L36 25.8L33.5 25.8L32 26.8L30 25.5L27.8 26.5L27.2 27.8L25.8 27.5L24.5 26L24 26L22.8 27L20.5 27L16.8 30.8L15.5 28.8L14.8 28.8L13.8 30.2L12.8 30.5L12 30L10.5 30L7.2 31L6.5 29.5L5.2 29.5L2.8 32.2L1 33.2L0 33.2L0 79.8L0.8 80.2L0 81.2L0 84L1.5 83.8L2.5 79.8L5 78.2L5 77.5L4.2 76.8L2.8 77.5L2 77L2.8 76.2L7.2 75.5L8 74.8L8.2 73.2L7.8 72.2L8.5 71.2L9 71.2L9.8 72.5L12.5 71L12.8 69.5L13.5 68.8L16.2 68.5L17.2 66.8L20.5 65L22.5 64.8L23.5 65.5L25 64L24.8 62L25.2 61.5L29 62.8L30 60.2L33.8 59.2L34.5 57.5L37 56.2L37.8 56.5L38.5 55.5L39.8 55.5L40.2 53.5L41.5 52.5L43 52.2L44 53.5L44.5 52.8L45.5 52.5L45.8 51.5L47 50.5L49.8 50.8L49.5 49.8L48.2 48.5L48.5 47.2L49.5 46.5L48 44.8L48.2 40.2L49.5 38.2L48.8 36L49.2 32.5L48.5 31.5L46.5 30.8L45.8 27.5L44 26.5ZM64.2 0L64.8 1.2L72 3.8L77.8 6.8L85 12.2L90.5 18.2L92.5 21.2L94.2 25.5L99.5 33.2L102.8 35.5L104.8 35.8L104.5 29L99.8 22L92.8 14.5L87.5 10.2L79.8 5.2L72.5 2L68.8 0.8Z"/><path fill="#fdcd32" d="M104.8 74.5L101.2 75.8L90.2 86.8L76.5 98L74 100.8L73 103.8L78.2 103.5L98 87.2L104.2 80.5L104.8 79.5ZM43.5 25.2L43 25.2L43.2 26.8L41.2 27.5L40.2 27.2L40.8 26.2L40.2 25.8L38.2 26.5L36 25.8L33.5 25.8L32 26.8L30 25.5L27.8 26.5L27.2 27.8L25.8 27.5L24.5 26L24 26L22.8 27L20.5 27L16.8 30.8L15.5 28.8L14.8 28.8L13.8 30.2L12.8 30.5L12 30L10.5 30L7.2 31L6.5 29.5L5.2 29.5L2.8 32.2L1 33.2L0 33.2L0 41L3.5 41L7 39.5L10.5 39.2L19.5 40L22.8 38.8L24.2 37.5L30 38L31.2 37.5L35.5 37.2L37.2 38.2L37 42.2L34.2 44L31.5 47L29 48.5L27 50.5L20.5 53L17.2 56.2L8.8 61.5L7.2 63L4.5 64L2.5 65.8L1 68.2L0 69L0 79.8L0.8 80.2L0 81.2L0 84L1.5 83.8L2.5 79.8L5 78.2L5 77.5L4.2 76.8L2.8 77.5L2 77L2.8 76.2L7.2 75.5L8 74.8L8.2 73.2L7.8 72.2L8.5 71.2L9 71.2L9.8 72.5L12.5 71L12.8 69.5L13.5 68.8L16.2 68.5L17.2 66.8L20.5 65L22.5 64.8L23.5 65.5L25 64L24.8 62L25.2 61.5L29 62.8L30 60.2L33.8 59.2L34.5 57.5L37 56.2L37.8 56.5L38.5 55.5L39.8 55.5L40.2 53.5L41.5 52.5L43 52.2L44 53.5L44.5 52.8L45.5 52.5L45.8 51.5L47 50.5L49.8 50.8L49.5 49.8L48.2 48.5L48.5 47.2L49.5 46.5L48 44.8L48.2 40.2L49.5 38.2L48.8 36L49.2 32.5L48.5 31.5L46.5 30.8L45.8 27.5L44 26.5ZM64.5 0L65 1L69 2L77.2 5.8L86 12L93 19.5L100 31L102.2 33.2L104.8 34L104.8 29.5L103 26.5L97.2 19L92.8 14.5L87.5 10.2L79.8 5.2L72.5 2Z"/><path fill="#fcda29" d="M104.8 76.2L102 77.2L93.5 86.2L76 100.8L75 102L74.8 103.8L77.8 103.8L98 87.2L104.2 80.5L104.8 79.5ZM43.5 25.2L43 25.2L43.2 26.8L41.2 27.5L40.2 27.2L40.8 26.2L40.2 25.8L38.2 26.5L36 25.8L33.5 25.8L32 26.8L30 25.5L27.8 26.5L27.2 27.8L25.8 27.5L24.5 26L24 26L22.8 27L20.5 27L16.8 30.8L15.5 28.8L14.8 28.8L13.8 30.2L12.8 30.5L12 30L10.5 30L7.2 31L6.5 29.5L5.2 29.5L2.8 32.2L1 33.2L0 33.2L0 38.5L2.8 38.5L6.5 36.8L9.2 37L10.8 36.5L18.5 37.5L21.2 36.5L23.5 34.8L29 35.5L31.2 34.8L33.8 35L35.8 34.5L40 36.8L39.2 43.8L36.2 45.5L33 49L29.8 51L28 52.8L25.8 54L23.5 54.2L21.5 55.2L18.5 58.5L14 61L12.5 62.5L10.5 63.2L8.5 65.2L5.2 66.5L3.2 68.8L2.8 70.5L0 71.8L0 79.8L0.8 80.2L0 81.2L0 84L1.5 83.8L2.5 79.8L5 78.2L5 77.5L4.2 76.8L2.8 77.5L2 77L2.8 76.2L7.2 75.5L8 74.8L8.2 73.2L7.8 72.2L8.5 71.2L9 71.2L9.8 72.5L12.5 71L12.8 69.5L13.5 68.8L16.2 68.5L17.2 66.8L20.5 65L22.5 64.8L23.5 65.5L25 64L24.8 62L25.2 61.5L29 62.8L30 60.2L33.8 59.2L34.5 57.5L37 56.2L37.8 56.5L38.5 55.5L39.8 55.5L40.2 53.5L41.5 52.5L43 52.2L44 53.5L44.5 52.8L45.5 52.5L45.8 51.5L47 50.5L49.8 50.8L49.5 49.8L48.2 48.5L48.5 47.2L49.5 46.5L48 44.8L48.2 40.2L49.5 38.2L48.8 36L49.2 32.5L48.5 31.5L46.5 30.8L45.8 27.5L44 26.5ZM64.8 0L65.2 0.8L68.2 1.2L78.8 6L86 11L90.2 14.8L94 19L101.8 30.8L103 32L104.8 32.5L104.8 29.5L101.5 24.2L97.2 19L89.8 12L83 7.2L77.8 4.2L68.8 0.8Z"/><path fill="#fbe721" d="M104.8 77.8L103.8 77.8L95.2 86.8L76.8 102L76 103.8L77.8 103.8L98 87.2L103.8 81.2L104.8 79.5ZM43.5 25.2L43 25.2L43.2 26.8L41.2 27.5L40.2 27.2L40.8 26.2L40.2 25.8L38.2 26.5L36 25.8L33.5 25.8L32 26.8L30 25.5L27.8 26.5L27.2 27.8L25.8 27.5L24.5 26L24 26L22.8 27L20.5 27L16.8 30.8L15.5 28.8L14.8 28.8L13.8 30.2L12.8 30.5L12 30L10.5 30L7.2 31L6.5 29.5L5.2 29.5L2.8 32.2L1 33.2L0 33.2L0 35.8L1.8 36L5.8 34L14.5 34L15.8 34.8L17.8 35L19.2 34.5L22.8 31.8L27.5 33L30.8 32L34.2 32.2L35.2 31.8L38.8 33.5L40.8 33.8L42.5 35.8L41.8 41.2L41.8 45.8L37.8 47.5L35 50.8L31.5 52.8L29.2 55L26.5 56.5L23 57.2L21.5 58.5L20.2 60.5L16.2 62.5L13.5 65L11.5 65.5L9.5 67.8L7 68.2L5.5 69.8L4.8 71.2L4.8 72.5L1 74L0 75.2L0 79.8L0.8 80.2L0 81.2L0 84L1.5 83.8L2.5 79.8L5 78.2L5 77.5L4.2 76.8L2.8 77.5L2 77L2.8 76.2L7.2 75.5L8 74.8L8.2 73.2L7.8 72.2L8.5 71.2L9 71.2L9.8 72.5L12.5 71L12.8 69.5L13.5 68.8L16.2 68.5L17.2 66.8L20.5 65L22.5 64.8L23.5 65.5L25 64L24.8 62L25.2 61.5L29 62.8L30 60.2L33.8 59.2L34.5 57.5L37 56.2L37.8 56.5L38.5 55.5L39.8 55.5L40.2 53.5L41.5 52.5L43 52.2L44 53.5L44.5 52.8L45.5 52.5L45.8 51.5L47 50.5L49.8 50.8L49.5 49.8L48.2 48.5L48.5 47.2L49.5 46.5L48 44.8L48.2 40.2L49.5 38.2L48.8 36L49.2 32.5L48.5 31.5L46.5 30.8L45.8 27.5L44 26.5ZM65 0L67 1L68.5 1L79 5.5L89.2 12.8L94.8 18.2L100 25.2L103 30.2L104.8 31.2L104.5 29L99.8 22L97.2 19L89.8 12L83 7.2L77.8 4.2L72.5 2Z"/><path fill="#faf419" d="M104.8 78.8L97.2 86.8L77.5 103L77.2 103.8L79 103L98 87.2L103.8 81.2ZM43.5 25.2L43 25.2L43.2 26.8L41.2 27.5L40.2 27.2L40.8 26.2L40.2 25.8L38.2 26.5L36 25.8L33.5 25.8L32 26.8L30 25.5L27.8 26.5L27.2 27.8L25.8 27.5L24.5 26L24 26L22.8 27L20.5 27L16.8 30.8L15.5 28.8L14.8 28.8L13.8 30.2L12.8 30.5L12 30L10.5 30L7.2 31L6.5 29.5L5.2 29.5L2.8 32.2L1 33.2L0 33.2L1 33.5L3.2 32.5L5.8 30L7 31.8L11.2 31L12.5 31.8L15 31.2L16.2 32.2L17.8 32.2L21.8 29L24 29L26 30.2L28.5 30.2L30 29L31.5 29.8L33.5 29.8L35 29L39.8 31.2L42.5 31L43.5 33.2L45 34.5L45.2 37L44.2 41.8L44.5 47.5L43.2 48.5L40.8 48.8L38.8 49.8L36.5 52.8L32.5 55L31.5 56.5L28.8 57.8L27.2 59.2L25.5 59L24 59.5L22.8 61L22.5 62.8L20.8 62.8L16.5 65.2L15 67.2L13 67.5L11.8 68.8L11.8 69.8L10.2 71L9.8 70.5L8 70.5L7 72L7.2 74.5L2.5 76L1.8 76.8L2.2 77.8L4 77.2L4.5 78L2.2 79.5L1.5 81.5L1.5 83.2L0.8 84L0 84L1.5 83.8L2.5 79.8L5 78.2L5 77.5L4.2 76.8L2.8 77.5L2 77L2.8 76.2L7.2 75.5L8 74.8L8.2 73.2L7.8 72.2L8.5 71.2L9 71.2L9.8 72.5L12.5 71L12.8 69.5L13.5 68.8L16.2 68.5L17.2 66.8L20.5 65L22.5 64.8L23.5 65.5L25 64L24.8 62L25.2 61.5L29 62.8L30 60.2L33.8 59.2L34.5 57.5L37 56.2L37.8 56.5L38.5 55.5L39.8 55.5L40.2 53.5L41.5 52.5L43 52.2L44 53.5L44.5 52.8L45.5 52.5L45.8 51.5L47 50.5L49.8 50.8L49.5 49.8L48.2 48.5L48.5 47.2L49.5 46.5L48 44.8L48.2 40.2L49.5 38.2L48.8 36L49.2 32.5L48.5 31.5L46.5 30.8L45.8 27.5L44 26.5ZM65.2 0L69.5 1L77.5 4.2L87.5 10.5L92.5 14.8L96.8 19.2L101 24.8L104 29.8L104.8 30L101.5 24.2L97.2 19L92.8 14.5L87.5 10.2L77.8 4.2L72.5 2Z"/><path d="M0 0H64L58 1.3H0Z" fill="#f4b93a" opacity=".85"/><path d="M0 1.2H58L52 2.6H0Z" fill="#7cc46a" opacity=".6"/></g></svg><div class="lb" style="left:5px;top:5.2px;color:#fff;font-size:17.5px">(d)</div></div>
<div class="im" style="left:688.6px;top:183.3px;width:104.4px;height:104.5px;"><svg viewBox="0 0 104.4 104.5" preserveAspectRatio="none"><rect width="100%" height="100%" fill="url(#gE)"/><rect width="100%" height="100%" fill="url(#gEb)"/><rect width="100%" height="100%" fill="url(#gEc)"/><circle cx="63.2" cy="40.7" r="15" fill="#3a8cf2" opacity=".75" filter="url(#b1)"/></svg><div class="lb" style="left:4.5px;top:5.2px;color:#fff;font-size:17.5px">(e)</div></div>
<div class="im" style="left:465px;top:183.3px;width:103.5px;height:104px;"><svg viewBox="0 0 103.5 104" preserveAspectRatio="none"><rect width="100%" height="100%" fill="url(#gE)"/><rect width="100%" height="100%" fill="url(#gEb)"/><rect width="100%" height="100%" fill="url(#gEc)"/><rect width="100%" height="100%" fill="#7a20e8" opacity=".2"/><use href="#fd" opacity=".92" filter="url(#b03)"/><circle cx="63.6" cy="41.2" r="16.5" fill="#3a72f4" filter="url(#b1)"/></svg><div class="lb" style="left:8px;top:5.2px;color:#fff;font-size:17.5px">(f)</div></div>
<div class="im" style="left:27.3px;top:179.8px;width:106.7px;height:104.3px;"><svg viewBox="0 0 106.7 104.3" preserveAspectRatio="none"><rect width="100%" height="100%" fill="url(#gH)"/><g filter="url(#b3)"><ellipse cx="55" cy="78" rx="22" ry="16" fill="#2e74f4" opacity=".7"/><ellipse cx="88" cy="22" rx="16" ry="14" fill="#28a8d8" opacity=".6"/><ellipse cx="30" cy="40" rx="14" ry="12" fill="#2aa0dc" opacity=".45"/><ellipse cx="12" cy="95" rx="12" ry="10" fill="#2e78f0" opacity=".6"/><ellipse cx="100" cy="98" rx="8" ry="8" fill="#3a50e8" opacity=".7"/></g><circle cx="65" cy="40.3" r="16.6" fill="#58c490" filter="url(#b1)"/><circle cx="65" cy="40.3" r="15" fill="url(#gHc)" filter="url(#b05)"/><g clip-path="url(#hcl)"><rect x="49" y="24" width="32" height="32" opacity=".3" filter="url(#sp)"/></g></svg><div class="lb" style="left:1.5px;top:5.2px;color:#fff;font-size:17.5px">(h)</div></div>
<div class="im" style="left:235.3px;top:376px;width:72.5px;height:72.5px;box-shadow:none"><svg viewBox="0 0 72.5 72.5"><rect width="100%" height="100%" fill="#3b70f6" stroke="#1c2a66" stroke-width="1"/><ellipse cx="40.7" cy="35.2" rx="13" ry="7.6" transform="rotate(-22 40.7 35.2)" fill="#ff00ff" filter="url(#b2)"/><ellipse cx="40.7" cy="35.2" rx="10" ry="5.4" transform="rotate(-22 40.7 35.2)" fill="#ff00ff" filter="url(#b1)"/></svg></div>
<div class="im" style="left:322.3px;top:374.4px;width:104.2px;height:103.9px;"><svg viewBox="0 0 104.2 103.9" preserveAspectRatio="none"><rect width="100%" height="100%" fill="url(#gE)"/><rect width="100%" height="100%" fill="url(#gEb)"/><rect width="100%" height="100%" fill="url(#gEc)"/><rect width="100%" height="100%" fill="#7a20e8" opacity=".2"/><use href="#fd" opacity=".92" filter="url(#b03)"/><circle cx="63.6" cy="41.2" r="16.5" fill="#3a72f4" filter="url(#b1)"/></svg><div class="lb" style="left:7px;top:4.2px;color:#fff;font-size:17.5px">(f)</div></div>
<div class="im" style="left:184px;top:506.8px;width:105.4px;height:104.4px;"><svg viewBox="0 0 105.4 104.4" preserveAspectRatio="none"><rect width="100%" height="100%" fill="url(#gM)"/><ellipse cx="35" cy="52" rx="14" ry="27" transform="rotate(-22 35 52)" fill="#f9c82c" opacity=".85" filter="url(#b8)"/><ellipse cx="44" cy="84" rx="14" ry="22" transform="rotate(-25 44 84)" fill="#f9f018" opacity=".7" filter="url(#b8)"/><rect width="100%" height="100%" fill="url(#gMb)"/><rect width="100%" height="100%" fill="url(#gMc)"/></svg><div class="lb" style="left:2px;top:6.2px;color:#000;font-size:17.5px">(m)</div></div>
<div class="im" style="left:322.3px;top:506.8px;width:106.8px;height:104px;"><svg viewBox="0 0 106.8 104" preserveAspectRatio="none"><rect width="100%" height="100%" fill="url(#gH)"/><g filter="url(#b3)"><ellipse cx="55" cy="78" rx="22" ry="16" fill="#2e74f4" opacity=".7"/><ellipse cx="88" cy="22" rx="16" ry="14" fill="#28a8d8" opacity=".6"/><ellipse cx="30" cy="40" rx="14" ry="12" fill="#2aa0dc" opacity=".45"/><ellipse cx="12" cy="95" rx="12" ry="10" fill="#2e78f0" opacity=".6"/><ellipse cx="100" cy="98" rx="8" ry="8" fill="#3a50e8" opacity=".7"/></g><circle cx="65" cy="40.3" r="16.6" fill="#58c490" filter="url(#b1)"/><circle cx="65" cy="40.3" r="15" fill="url(#gHc)" filter="url(#b05)"/><g clip-path="url(#hcl)"><rect x="49" y="24" width="32" height="32" opacity=".3" filter="url(#sp)"/></g></svg><div class="lb" style="left:3px;top:5.7px;color:#fff;font-size:17.5px">(h)</div></div>
<div class="im" style="left:469.8px;top:374.8px;width:105.3px;height:104px;"><svg viewBox="0 0 105.3 104" preserveAspectRatio="none"><rect width="100%" height="100%" fill="url(#gI)"/><rect width="100%" height="100%" fill="url(#gIc)"/><circle cx="64.4" cy="40.6" r="15.6" fill="#6a6a6a" opacity=".62" filter="url(#b1)"/><circle cx="77" cy="86" r="1.3" fill="#111" opacity=".7" filter="url(#b05)"/></svg><div class="lb" style="left:3px;top:4.7px;color:#fff;font-size:17.5px">(i)</div></div>
<div class="im" style="left:616.8px;top:374.8px;width:105.3px;height:104px;"><svg viewBox="0 0 105.3 104" preserveAspectRatio="none"><rect width="100%" height="100%" fill="url(#gJ)"/><rect width="100%" height="100%" fill="url(#gJb)"/><circle cx="64.4" cy="40.6" r="15.8" fill="#a4a4a4" filter="url(#b1)"/><g clip-path="url(#jcl)"><rect x="48" y="24" width="33" height="33" opacity=".35" filter="url(#spw)"/></g><circle cx="77" cy="86" r="1.4" fill="#000" opacity=".8" filter="url(#b05)"/></svg><div class="lb" style="left:4px;top:5.2px;color:#000;font-size:17.5px">(j)</div></div>
<div class="im" style="left:617.3px;top:519.3px;width:105.4px;height:103.5px;"><svg viewBox="0 0 105.4 103.5" preserveAspectRatio="none"><rect width="100%" height="100%" fill="url(#gI)"/><rect width="100%" height="100%" fill="url(#gIc)"/><circle cx="64.4" cy="40.6" r="15.6" fill="#6a6a6a" opacity=".62" filter="url(#b1)"/><circle cx="77" cy="86" r="1.3" fill="#111" opacity=".7" filter="url(#b05)"/><circle cx="64.7" cy="40.9" r="17.6" fill="none" stroke="#c23c3c" stroke-width=".9"/></svg><div class="lb" style="left:3px;top:7.2px;color:#fff;font-size:17.5px">(k)</div></div>
<div class="im" style="left:470px;top:520px;width:106.2px;height:104px;box-shadow:2px 2px 3px rgba(0,0,0,.45),inset 0 1px 0 #222,inset 1px 0 0 #aaa;"><svg viewBox="0 0 106.2 104" preserveAspectRatio="none"><rect width="100%" height="100%" fill="#fff"/><path d="M0 .5H106.2" stroke="#1a1a1a" stroke-width="1"/><path d="M.4 1V104" stroke="#9a9a9a" stroke-width=".8"/><path d="M64.9 24c9.6-.3 17.6 7 17.5 16.6-.1 9.8-7.4 17.4-17 17.4-9.8 0-17.6-7.4-17.5-17 .1-9.6 7.4-16.7 17-17z" fill="#000"/></svg><div class="lb" style="left:7px;top:6.2px;color:#000;font-size:17.5px">(l)</div></div>
<!-- IMAGES-END -->

<!-- OVERLAY-START -->
<svg id="ov" viewBox="0 0 920 655">
<defs>
<filter id="ds" x="-20%" y="-50%" width="140%" height="250%"><feDropShadow dx="0.6" dy="2" stdDeviation="1.1" flood-color="#000" flood-opacity=".38"/></filter>
<filter id="ds2" x="-30%" y="-10%" width="160%" height="120%"><feDropShadow dx="1.2" dy="1.5" stdDeviation="1.2" flood-color="#000" flood-opacity=".35"/></filter>
<linearGradient id="rg" gradientUnits="userSpaceOnUse" x1="474" y1="526" x2="430" y2="462"><stop offset="0" stop-color="#8e2f2a"/><stop offset=".45" stop-color="#8e2f2a" stop-opacity=".9"/><stop offset=".6" stop-color="#a85a55" stop-opacity=".55"/><stop offset=".8" stop-color="#8e2f2a"/><stop offset="1" stop-color="#8e2f2a"/></linearGradient>
</defs>
<g filter="url(#ds)">
<path d="M149.5 103.1H225.3" stroke="#969696" stroke-width="3.3" stroke-linecap="round" fill="none"/><path d="M224.3 97.3L242.8 103.1L224.3 108.9Z" fill="#969696"/>
<path d="M360 103.8H442.5" stroke="#969696" stroke-width="3.3" stroke-linecap="round" fill="none"/><path d="M441.5 98.0L460 103.8L441.5 109.6Z" fill="#969696"/>
<path d="M576.5 95.7H661.8" stroke="#969696" stroke-width="3.3" stroke-linecap="round" fill="none"/><path d="M660.8 89.9L679.3 95.7L660.8 101.5Z" fill="#969696"/>
<path d="M682 242.1H592.2" stroke="#969696" stroke-width="3.3" stroke-linecap="round" fill="none"/><path d="M593.2 236.3L574.7 242.1L593.2 247.9Z" fill="#969696"/>
<path d="M453 241.3H417.1" stroke="#969696" stroke-width="3.3" stroke-linecap="round" fill="none"/><path d="M418.1 235.5L399.6 241.3L418.1 247.1Z" fill="#969696"/>
<path d="M200 241.5H159.6" stroke="#969696" stroke-width="3.3" stroke-linecap="round" fill="none"/><path d="M160.6 235.7L142.1 241.5L160.6 247.3Z" fill="#969696"/>
<path d="M214.5 416.2H142.0" stroke="#969696" stroke-width="3.3" stroke-linecap="round" fill="none"/><path d="M143.0 410.4L124.5 416.2L143.0 422.0Z" fill="#969696"/>
<path d="M293.5 559.4H306.7" stroke="#969696" stroke-width="3" stroke-linecap="round" fill="none"/><path d="M305.7 554.4L319.7 559.4L305.7 564.4Z" fill="#969696"/>
<path d="M581.5 419.8H596.8" stroke="#969696" stroke-width="3" stroke-linecap="round" fill="none"/><path d="M595.8 414.3L612.3 419.8L595.8 425.3Z" fill="#969696"/>
<path d="M613 566.9H595.7" stroke="#969696" stroke-width="3" stroke-linecap="round" fill="none"/><path d="M596.7 561.4L581.2 566.9L596.7 572.4Z" fill="#969696"/>
</g>
<g filter="url(#ds2)" fill="#ababab">
<path d="M798.8 91 C822 90 838 104 844 130 C848.5 150 848 176 843 197 C839 212 832 224 821 230.5 L815.4 228 L799.7 237.5 L815.4 246.8 L816.5 238.5 C832 234 840 219 843.3 200 C846.3 178 846.5 152 842.3 132 C837 111 822 99.5 798.8 99Z"/>
<path d="M737.2 388.4 C758 389 772 410 778 440 C784.5 472 785 515 778.4 545 C774 566 766 582 756.5 592 L752.5 593.3 L737.2 604 L752.5 612.4 L753 603.5 C766 594 773.5 571 777 545 C782.5 512 782.5 472 776.5 442 C771 414 757 397 737.2 396Z"/>
<path d="M56.5 431.5 C38 433 24 447 16.5 470 C8.5 498 7.5 540 11.5 570 C14.5 592 23 606 39.5 613.8 L39.7 623 L55.9 613.2 L39.7 602.5 L39.3 608 C28 602.5 20 590 16.2 570 C11.5 540 12 500 19.5 472 C26.5 451 40 440 56.5 438.5Z"/>
</g>
<rect x="205.6" y="177.6" width="191.7" height="135.9" fill="none" stroke="#8e2f2a" stroke-width="2.85" stroke-dasharray="2.9 6.1" stroke-linecap="round"/>
<rect x="437.4" y="177.6" width="165.6" height="135.9" fill="none" stroke="#8e2f2a" stroke-width="2.85" stroke-dasharray="2.9 6.1" stroke-linecap="round"/>
<path d="M342.3 313.6a2 2 0 0 1 2-2h5.6a2 2 0 0 1 2 2V333h3.5L347.1 348L338.8 333h3.5Z" fill="#92332d"/>
<path d="M521.5 313.6a2 2 0 0 1 2-2h5.6a2 2 0 0 1 2 2V332.2h3.5L526.3 347.2L518.0 332.2h3.5Z" fill="#92332d"/>
<path d="M475.9 525.5 C478.5 521 480 516.5 479.4 511.8 C478.6 506 477.9 503.5 477.1 501.1 C475 495 472 490.5 469.5 487.3 C466 482.5 462 477.5 458 473.6 C454 470 450 467 445.8 465.2 C441.5 463.4 437 462.6 432.8 462.9 L427.5 458.6 L422.6 467.5 L432.8 467.2 L433.9 465.2 C437.5 465 441.5 465.6 445.8 467.2 C450 469 453.5 471.5 457.3 475.1 C461 478.8 464.8 483.5 467.9 488.5 C470.5 492.5 473 497 474.8 502.6 C475.8 506 476.2 509.5 475.9 513.3 C475.5 518 473.8 523 471 527.3 Z" fill="#8e2f2a"/>
<rect x="340.6" y="397.4" width="9" height="9.8" fill="none" stroke="#000" stroke-width="1.5" stroke-dasharray="2.6 1.6"/>
<path d="M307.8 376.3L340.3 397.2M307.8 448.4L340.3 407.3" stroke="#111" stroke-width=".8" stroke-dasharray="2.2 1.3" fill="none"/>
<g font-family="Liberation Sans, sans-serif" text-rendering="geometricPrecision">
<rect x="215.4" y="179.4" width="38.5" height="114" fill="#ececec"/>
<rect x="261.8" y="179.4" width="55.6" height="114" fill="#ececec"/>
<rect x="327.2" y="179.4" width="59.8" height="114" fill="#ececec"/>
<g stroke="#1a1a1a" stroke-width=".65" fill="#111">
<path d="M331.5 191.1L301.9 201.3" fill="none"/>
<path d="M301.9 201.3L305.8 201.5L304.8 198.8Z" stroke="none"/>
<path d="M331.5 191.1L301.9 218.7" fill="none"/>
<path d="M301.9 218.7L305.5 217.3L303.6 215.3Z" stroke="none"/>
<path d="M331.5 191.1L301.9 236.2" fill="none"/>
<path d="M301.9 236.2L305.0 234.0L302.7 232.4Z" stroke="none"/>
<path d="M331.5 191.1L301.9 264.5" fill="none"/>
<path d="M301.9 264.5L304.5 261.7L301.9 260.7Z" stroke="none"/>
<path d="M331.5 230.9L301.9 203.7" fill="none"/>
<path d="M301.9 203.7L303.6 207.2L305.5 205.1Z" stroke="none"/>
<path d="M331.5 230.9L301.9 221.1" fill="none"/>
<path d="M301.9 221.1L304.9 223.6L305.8 220.9Z" stroke="none"/>
<path d="M331.5 230.9L301.9 238.6" fill="none"/>
<path d="M301.9 238.6L305.7 239.1L305.0 236.3Z" stroke="none"/>
<path d="M331.5 230.9L301.9 266.9" fill="none"/>
<path d="M301.9 266.9L305.3 265.0L303.1 263.2Z" stroke="none"/>
<path d="M331.5 269.6L301.9 206.1" fill="none"/>
<path d="M301.9 206.1L302.2 209.9L304.7 208.7Z" stroke="none"/>
<path d="M331.5 269.6L301.9 223.4" fill="none"/>
<path d="M301.9 223.4L302.7 227.2L305.0 225.7Z" stroke="none"/>
<path d="M331.5 269.6L301.9 240.9" fill="none"/>
<path d="M301.9 240.9L303.5 244.4L305.5 242.4Z" stroke="none"/>
<path d="M331.5 269.6L301.9 269.2" fill="none"/>
<path d="M301.9 269.2L305.5 270.7L305.5 267.9Z" stroke="none"/>
<path d="M292.09999999999997 202H274.4M264.59999999999997 202H238.5" fill="none"/>
<path d="M274.0 202l3.2 -1.3v2.6zM238 202l3.4 -1.3v2.6z" stroke="none"/>
<path d="M292.09999999999997 220.5H274.4M264.59999999999997 220.5H238.5" fill="none"/>
<path d="M274.0 220.5l3.2 -1.3v2.6zM238 220.5l3.4 -1.3v2.6z" stroke="none"/>
<path d="M292.09999999999997 239.1H274.4M264.59999999999997 239.1H238.5" fill="none"/>
<path d="M274.0 239.1l3.2 -1.3v2.6zM238 239.1l3.4 -1.3v2.6z" stroke="none"/>
<path d="M292.09999999999997 269.2H274.4M264.59999999999997 269.2H238.5" fill="none"/>
<path d="M274.0 269.2l3.2 -1.3v2.6zM238 269.2l3.4 -1.3v2.6z" stroke="none"/>
<path d="M362 191.1H340.9" fill="none"/><path d="M340.29999999999995 191.1l3.4 -1.3v2.6z" stroke="none"/>
<path d="M362 230.9H340.9" fill="none"/><path d="M340.29999999999995 230.9l3.4 -1.3v2.6z" stroke="none"/>
<path d="M362 269.6H340.9" fill="none"/><path d="M340.29999999999995 269.6l3.4 -1.3v2.6z" stroke="none"/>
</g>
<circle cx="269.4" cy="202" r="4.8" fill="#80d0de"/><circle cx="296.9" cy="202" r="4.8" fill="#80d0de"/>
<circle cx="269.4" cy="220.5" r="4.8" fill="#80d0de"/><circle cx="296.9" cy="220.5" r="4.8" fill="#80d0de"/>
<circle cx="269.4" cy="239.1" r="4.8" fill="#80d0de"/><circle cx="296.9" cy="239.1" r="4.8" fill="#80d0de"/>
<circle cx="269.4" cy="269.2" r="4.8" fill="#80d0de"/><circle cx="296.9" cy="269.2" r="4.8" fill="#80d0de"/>
<rect x="331.5" y="187.2" width="8.8" height="7.8" fill="#a8c878" stroke="#90b060" stroke-width=".4"/>
<text x="335.7" y="193.0" font-size="5.6" font-weight="bold" text-anchor="middle" fill="#222">x<tspan font-size="3.4" dy="1">1</tspan></text>
<rect x="331.5" y="227.0" width="8.8" height="7.8" fill="#a8c878" stroke="#90b060" stroke-width=".4"/>
<text x="335.7" y="232.8" font-size="5.6" font-weight="bold" text-anchor="middle" fill="#222">x<tspan font-size="3.4" dy="1">2</tspan></text>
<rect x="331.5" y="265.70000000000005" width="8.8" height="7.8" fill="#a8c878" stroke="#90b060" stroke-width=".4"/>
<text x="335.7" y="271.5" font-size="5.6" font-weight="bold" text-anchor="middle" fill="#222">x<tspan font-size="3.4" dy="1">3</tspan></text>
<rect x="375.5" y="235" width="9.2" height="8.2" fill="#a8c878" stroke="#90b060" stroke-width=".4"/><text x="380.1" y="241.6" font-size="6.4" font-weight="bold" text-anchor="middle" fill="#222">X</text>
<circle cx="222.4" cy="241.3" r="5.6" fill="#c9c0e2" stroke="#b0a8cc" stroke-width=".5"/><text x="222.4" y="243.6" font-size="6.2" text-anchor="middle" fill="#1a1a1a">Y</text>
<path d="M243.8 187.7C238 187.7 235.7 189 235.7 193V236C235.7 239.5 234 241.3 231.5 241.3C234 241.3 235.7 243 235.7 246.5V287.5C235.7 291.7 238 293 243.8 293" fill="none" stroke="#222" stroke-width=".7"/>
<path d="M362.5 186.3C366 186.3 367.8 187.6 367.8 191.5V234C367.8 237.4 369.3 239.1 371.7 239.1C369.3 239.1 367.8 240.8 367.8 244.2V286.5C367.8 290.4 366 291.7 362.5 291.7" fill="none" stroke="#222" stroke-width=".7"/>
<text x="249.5" y="200.7" font-size="4.6" text-anchor="middle" fill="#222">y<tspan font-size="3" dy=".8">1</tspan></text>
<text x="283" y="200.7" font-size="4.4" text-anchor="middle" fill="#222">ω<tspan font-size="3" dy=".8">1</tspan></text>
<text x="249.5" y="219.2" font-size="4.6" text-anchor="middle" fill="#222">y<tspan font-size="3" dy=".8">2</tspan></text>
<text x="283" y="219.2" font-size="4.4" text-anchor="middle" fill="#222">ω<tspan font-size="3" dy=".8">2</tspan></text>
<text x="249.5" y="237.79999999999998" font-size="4.6" text-anchor="middle" fill="#222">y<tspan font-size="3" dy=".8">3</tspan></text>
<text x="283" y="237.79999999999998" font-size="4.4" text-anchor="middle" fill="#222">ω<tspan font-size="3" dy=".8">3</tspan></text>
<text x="249.5" y="267.9" font-size="4.6" text-anchor="middle" fill="#222">y<tspan font-size="3" dy=".8">n</tspan></text>
<text x="283" y="267.9" font-size="4.4" text-anchor="middle" fill="#222">ω<tspan font-size="3" dy=".8">n</tspan></text>
<text x="297.9" y="251" font-size="5" text-anchor="middle" fill="#222">⋮</text><text x="297.9" y="257.5" font-size="5" text-anchor="middle" fill="#222">⋮</text>
<text x="346.4" y="203.4" font-size="4.8" text-anchor="middle" fill="#000">Phase value</text>
<text x="346.4" y="242" font-size="4.8" text-anchor="middle" fill="#000">Scatter data x</text>
<text x="346.4" y="249.2" font-size="4.8" text-anchor="middle" fill="#000">coordinate</text>
<text x="346.4" y="281.6" font-size="4.8" text-anchor="middle" fill="#000">Scatter data y</text>
<text x="346.4" y="288.8" font-size="4.8" text-anchor="middle" fill="#000">coordinate</text>
<text x="207.6" y="195" font-size="17.3" fill="#000">(g)</text>
</g>
<g transform="translate(50 370) scale(0.09166)" fill="none" stroke="#000" stroke-width="23" stroke-linecap="round" stroke-linejoin="round"><path d="M157 961V650C60 590 20 480 20 375A345 345 0 0 1 365 30C560 30 705 180 710 400L800 560C810 590 800 603 780 603H707V700C707 790 680 828 600 828H507V961Z" stroke-linejoin="miter"/><path d="M230 578V540C228 510 212 494 190 486C160 478 135 460 120 425C100 400 95 370 102 345C95 310 100 265 130 240C140 205 170 185 200 180C215 155 250 140 290 138C320 125 355 128 385 145C415 125 455 128 485 150C520 158 550 175 572 205C605 225 618 260 612 295C640 325 640 365 610 395C595 408 580 412 560 412H440C390 412 365 440 365 480V578"/><path d="M295 578V470C290 440 265 420 240 400C215 375 205 330 225 295C250 260 290 245 340 245C400 245 455 260 495 300C520 325 530 350 530 378"/><path d="M160 268C165 300 180 325 200 345C215 365 225 385 240 400M180 428L215 398M225 215C235 235 250 248 268 254M335 185C338 210 335 230 322 246M465 215C460 235 448 250 430 258M545 285C530 295 515 300 498 300M340 247C352 280 350 320 335 345C330 355 322 365 315 370M345 335C365 335 385 330 400 322M225 350C240 346 255 346 270 348"/></g>
</svg>
<!-- OVERLAY-END -->

<!-- TEXT-START -->
<div class="t g c" style="top:156px;left:87.0px;">Cell hologram</div>
<div class="t g c" style="top:157px;left:299.8px;">Fourier spectrum</div>
<div class="t g c" style="top:156px;left:508.0px;"><i>“</i><span style="margin:0 4.5px 0 5px">+1</span><i>”</i> order spectrum</div>
<div class="t g c" style="top:155px;left:743.5px;">Wrapped phase</div>
<div class="t g c" style="top:293px;left:745.2px;">Unwrapped phase</div>
<div class="t g c" style="top:295px;left:83.0px;">Corrected phase</div>
<div class="t g c" style="top:295px;left:300.0px;">RBF Neural Network</div>
<div class="t g c" style="top:295px;left:520.0px;">Scatter plot fitting</div>
<div class="t b c" style="top:82px;left:197.3px;">FT</div>
<div class="t b" style="top:83px;left:357.7px;">To the center</div>
<div class="t b c" style="top:73px;left:625.0px;">IFT</div>
<div class="t b c" style="top:169px;left:845.5px;">LSU</div>
<div class="t b" style="top:213px;left:574.9px;">Segmentation</div>
<div class="t b" style="top:212px;left:407.0px;">Input</div>
<div class="t b" style="top:214px;left:144.1px;">Output</div>
<div class="t b" style="top:394px;left:136.0px;">Input data</div>
<div class="t b" style="top:425px;left:122.5px;">normalization</div>
<div class="t b" style="top:457px;left:219.8px;">50×50 matrix</div>
<div class="t g c" style="top:465px;left:92.9px;">RBF Neural</div>
<div class="t g c" style="top:485px;left:91.8px;">Network</div>
<div class="t g c" style="top:483px;left:326.2px;">Scatter matrix extraction</div>
<div class="t b" style="top:520px;left:33.9px;">1. Compute output</div>
<div class="t b" style="top:538px;left:51.7px;">matrix</div>
<div class="t b" style="top:566px;left:33.9px;">2. Output data</div>
<div class="t b" style="top:585px;left:51.7px;">denormalization</div>
<div class="t g c" style="top:615px;left:236.7px;">Conjugate</div>
<div class="t g c" style="top:629px;left:236.2px;">phase masks</div>
<div class="t g c" style="top:615px;left:378.9px;">Corrected</div>
<div class="t g c" style="top:629px;left:378.9px;">phase</div>
<div class="t g c" style="top:482px;left:522.3px;">Grayscale</div>
<div class="t g c" style="top:496px;left:522.5px;">image</div>
<div class="t g c" style="top:482px;left:673.5px;">Histogram</div>
<div class="t g c" style="top:496px;left:673.5px;">equalization</div>
<div class="t g c" style="top:630px;left:522.6px;">Binary mask</div>
<div class="t g c" style="top:630px;left:680.5px;">Segmentation result</div>
<div class="t b" style="top:406px;left:730.4px;">1. Calculate local</div>
<div class="t b" style="top:422px;left:747.9px;">variance.</div>
<div class="t b" style="top:453px;left:730.4px;">2. Segmentation</div>
<div class="t b" style="top:469px;left:747.9px;">using OTSU.</div>
<div class="t b" style="top:503px;left:730.4px;">3. Erosion and dilation.</div>
<div class="t b" style="top:533px;left:730.4px;">4. Circularity threshold</div>
<div class="t b" style="top:549px;left:730.4px;">and area threshold</div>
<div class="t b" style="top:565px;left:730.4px;">constraints.</div>
<!-- TEXT-END -->


</body></html>
